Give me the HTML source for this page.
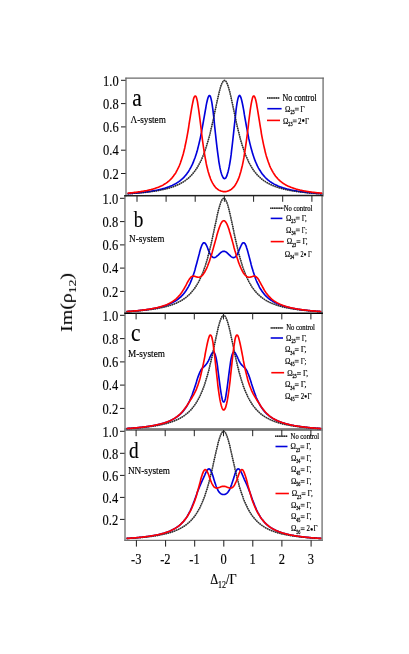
<!DOCTYPE html>
<html><head><meta charset="utf-8"><title>Figure</title>
<style>html,body{margin:0;padding:0;background:#fff}body{width:409px;height:654px;position:relative;overflow:hidden;font-family:"Liberation Serif",serif}</style>
</head><body>
<svg width="409" height="654" viewBox="0 0 409 654" style="position:absolute;left:0;top:0">
<rect width="409" height="654" fill="#fff"/>
<g font-family="Liberation Serif, serif" fill="#000" style="will-change:opacity;opacity:0.999">
<rect x="124.3" y="428.15" width="198.6" height="2.75" fill="#767676"/>
<g fill="none" stroke-linejoin="round">
<path d="M127.6 193.8 L128.1 193.8 L128.6 193.7 L129.1 193.7 L129.6 193.7 L130.0 193.6 L130.5 193.6 L131.0 193.6 L131.5 193.5 L132.0 193.5 L132.5 193.5 L133.0 193.4 L133.5 193.4 L134.0 193.4 L134.4 193.3 L134.9 193.3 L135.4 193.2 L135.9 193.2 L136.4 193.2 L136.9 193.1 L137.4 193.1 L137.9 193.1 L138.3 193.0 L138.8 193.0 L139.3 192.9 L139.8 192.9 L140.3 192.8 L140.8 192.8 L141.3 192.7 L141.8 192.7 L142.3 192.7 L142.7 192.6 L143.2 192.6 L143.7 192.5 L144.2 192.5 L144.7 192.4 L145.2 192.4 L145.7 192.3 L146.2 192.2 L146.7 192.2 L147.1 192.1 L147.6 192.1 L148.1 192.0 L148.6 192.0 L149.1 191.9 L149.6 191.8 L150.1 191.8 L150.6 191.7 L151.0 191.6 L151.5 191.6 L152.0 191.5 L152.5 191.4 L153.0 191.4 L153.5 191.3 L154.0 191.2 L154.5 191.2 L155.0 191.1 L155.4 191.0 L155.9 190.9 L156.4 190.8 L156.9 190.8 L157.4 190.7 L157.9 190.6 L158.4 190.5 L158.9 190.4 L159.4 190.3 L159.8 190.2 L160.3 190.1 L160.8 190.0 L161.3 189.9 L161.8 189.8 L162.3 189.7 L162.8 189.6 L163.3 189.5 L163.7 189.4 L164.2 189.3 L164.7 189.2 L165.2 189.1 L165.7 189.0 L166.2 188.8 L166.7 188.7 L167.2 188.6 L167.7 188.4 L168.1 188.3 L168.6 188.2 L169.1 188.0 L169.6 187.9 L170.1 187.7 L170.6 187.6 L171.1 187.4 L171.6 187.3 L172.1 187.1 L172.5 186.9 L173.0 186.8 L173.5 186.6 L174.0 186.4 L174.5 186.2 L175.0 186.0 L175.5 185.8 L176.0 185.6 L176.4 185.4 L176.9 185.2 L177.4 185.0 L177.9 184.8 L178.4 184.6 L178.9 184.3 L179.4 184.1 L179.9 183.8 L180.4 183.6 L180.8 183.3 L181.3 183.0 L181.8 182.8 L182.3 182.5 L182.8 182.2 L183.3 181.9 L183.8 181.6 L184.3 181.2 L184.8 180.9 L185.2 180.6 L185.7 180.2 L186.2 179.8 L186.7 179.5 L187.2 179.1 L187.7 178.7 L188.2 178.3 L188.7 177.9 L189.1 177.4 L189.6 177.0 L190.1 176.5 L190.6 176.0 L191.1 175.5 L191.6 175.0 L192.1 174.5 L192.6 173.9 L193.1 173.3 L193.5 172.7 L194.0 172.1 L194.5 171.5 L195.0 170.8 L195.5 170.1 L196.0 169.4 L196.5 168.7 L197.0 168.0 L197.5 167.2 L197.9 166.4 L198.4 165.5 L198.9 164.6 L199.4 163.7 L199.9 162.8 L200.4 161.8 L200.9 160.8 L201.4 159.8 L201.8 158.7 L202.3 157.6 L202.8 156.4 L203.3 155.2 L203.8 153.9 L204.3 152.6 L204.8 151.3 L205.3 149.9 L205.8 148.4 L206.2 146.9 L206.7 145.4 L207.2 143.8 L207.7 142.1 L208.2 140.4 L208.7 138.6 L209.2 136.8 L209.7 134.9 L210.2 133.0 L210.6 131.0 L211.1 129.0 L211.6 126.9 L212.1 124.7 L212.6 122.5 L213.1 120.3 L213.6 118.1 L214.1 115.8 L214.5 113.4 L215.0 111.1 L215.5 108.8 L216.0 106.5 L216.5 104.1 L217.0 101.8 L217.5 99.6 L218.0 97.4 L218.5 95.3 L218.9 93.2 L219.4 91.3 L219.9 89.4 L220.4 87.7 L220.9 86.1 L221.4 84.7 L221.9 83.5 L222.4 82.5 L222.9 81.7 L223.3 81.0 L223.8 80.6 L224.3 80.4 L224.8 80.4 L225.3 80.7 L225.8 81.2 L226.3 81.8 L226.8 82.7 L227.2 83.8 L227.7 85.1 L228.2 86.5 L228.7 88.1 L229.2 89.9 L229.7 91.7 L230.2 93.7 L230.7 95.8 L231.2 97.9 L231.6 100.1 L232.1 102.4 L232.6 104.7 L233.1 107.0 L233.6 109.4 L234.1 111.7 L234.6 114.0 L235.1 116.3 L235.6 118.6 L236.0 120.9 L236.5 123.1 L237.0 125.3 L237.5 127.4 L238.0 129.5 L238.5 131.5 L239.0 133.5 L239.5 135.4 L239.9 137.3 L240.4 139.1 L240.9 140.8 L241.4 142.5 L241.9 144.2 L242.4 145.8 L242.9 147.3 L243.4 148.8 L243.9 150.2 L244.3 151.6 L244.8 153.0 L245.3 154.2 L245.8 155.5 L246.3 156.7 L246.8 157.8 L247.3 159.0 L247.8 160.0 L248.3 161.1 L248.7 162.1 L249.2 163.0 L249.7 164.0 L250.2 164.9 L250.7 165.7 L251.2 166.6 L251.7 167.4 L252.2 168.1 L252.6 168.9 L253.1 169.6 L253.6 170.3 L254.1 171.0 L254.6 171.6 L255.1 172.3 L255.6 172.9 L256.1 173.5 L256.6 174.0 L257.0 174.6 L257.5 175.1 L258.0 175.6 L258.5 176.1 L259.0 176.6 L259.5 177.1 L260.0 177.5 L260.5 178.0 L261.0 178.4 L261.4 178.8 L261.9 179.2 L262.4 179.6 L262.9 179.9 L263.4 180.3 L263.9 180.7 L264.4 181.0 L264.9 181.3 L265.3 181.6 L265.8 182.0 L266.3 182.3 L266.8 182.5 L267.3 182.8 L267.8 183.1 L268.3 183.4 L268.8 183.6 L269.3 183.9 L269.7 184.1 L270.2 184.4 L270.7 184.6 L271.2 184.8 L271.7 185.1 L272.2 185.3 L272.7 185.5 L273.2 185.7 L273.7 185.9 L274.1 186.1 L274.6 186.3 L275.1 186.5 L275.6 186.6 L276.1 186.8 L276.6 187.0 L277.1 187.2 L277.6 187.3 L278.0 187.5 L278.5 187.6 L279.0 187.8 L279.5 187.9 L280.0 188.1 L280.5 188.2 L281.0 188.3 L281.5 188.5 L282.0 188.6 L282.4 188.7 L282.9 188.9 L283.4 189.0 L283.9 189.1 L284.4 189.2 L284.9 189.3 L285.4 189.4 L285.9 189.6 L286.4 189.7 L286.8 189.8 L287.3 189.9 L287.8 190.0 L288.3 190.1 L288.8 190.2 L289.3 190.3 L289.8 190.4 L290.3 190.4 L290.7 190.5 L291.2 190.6 L291.7 190.7 L292.2 190.8 L292.7 190.9 L293.2 190.9 L293.7 191.0 L294.2 191.1 L294.7 191.2 L295.1 191.3 L295.6 191.3 L296.1 191.4 L296.6 191.5 L297.1 191.5 L297.6 191.6 L298.1 191.7 L298.6 191.7 L299.1 191.8 L299.5 191.9 L300.0 191.9 L300.5 192.0 L301.0 192.0 L301.5 192.1 L302.0 192.2 L302.5 192.2 L303.0 192.3 L303.4 192.3 L303.9 192.4 L304.4 192.4 L304.9 192.5 L305.4 192.5 L305.9 192.6 L306.4 192.6 L306.9 192.7 L307.4 192.7 L307.8 192.8 L308.3 192.8 L308.8 192.8 L309.3 192.9 L309.8 192.9 L310.3 193.0 L310.8 193.0 L311.3 193.1 L311.8 193.1 L312.2 193.1 L312.7 193.2 L313.2 193.2 L313.7 193.3 L314.2 193.3 L314.7 193.3 L315.2 193.4 L315.7 193.4 L316.1 193.4 L316.6 193.5 L317.1 193.5 L317.6 193.5 L318.1 193.6 L318.6 193.6 L319.1 193.6 L319.6 193.7 L320.1 193.7 L320.5 193.7 L321.0 193.8 L321.5 193.8 L322.0 193.8 L322.5 193.8" stroke="#7c7c7c" stroke-width="1.3"/>
<path d="M127.6 193.6 L128.1 193.6 L128.6 193.6 L129.1 193.5 L129.6 193.5 L130.0 193.5 L130.5 193.4 L131.0 193.4 L131.5 193.4 L132.0 193.3 L132.5 193.3 L133.0 193.2 L133.5 193.2 L134.0 193.2 L134.4 193.1 L134.9 193.1 L135.4 193.0 L135.9 193.0 L136.4 193.0 L136.9 192.9 L137.4 192.9 L137.9 192.8 L138.3 192.8 L138.8 192.7 L139.3 192.7 L139.8 192.6 L140.3 192.6 L140.8 192.5 L141.3 192.5 L141.8 192.4 L142.3 192.4 L142.7 192.3 L143.2 192.3 L143.7 192.2 L144.2 192.2 L144.7 192.1 L145.2 192.0 L145.7 192.0 L146.2 191.9 L146.7 191.8 L147.1 191.8 L147.6 191.7 L148.1 191.6 L148.6 191.6 L149.1 191.5 L149.6 191.4 L150.1 191.4 L150.6 191.3 L151.0 191.2 L151.5 191.1 L152.0 191.1 L152.5 191.0 L153.0 190.9 L153.5 190.8 L154.0 190.7 L154.5 190.6 L155.0 190.5 L155.4 190.5 L155.9 190.4 L156.4 190.3 L156.9 190.2 L157.4 190.1 L157.9 190.0 L158.4 189.9 L158.9 189.7 L159.4 189.6 L159.8 189.5 L160.3 189.4 L160.8 189.3 L161.3 189.2 L161.8 189.0 L162.3 188.9 L162.8 188.8 L163.3 188.6 L163.7 188.5 L164.2 188.4 L164.7 188.2 L165.2 188.1 L165.7 187.9 L166.2 187.8 L166.7 187.6 L167.2 187.4 L167.7 187.3 L168.1 187.1 L168.6 186.9 L169.1 186.7 L169.6 186.5 L170.1 186.3 L170.6 186.1 L171.1 185.9 L171.6 185.7 L172.1 185.5 L172.5 185.3 L173.0 185.0 L173.5 184.8 L174.0 184.5 L174.5 184.3 L175.0 184.0 L175.5 183.8 L176.0 183.5 L176.4 183.2 L176.9 182.9 L177.4 182.6 L177.9 182.3 L178.4 181.9 L178.9 181.6 L179.4 181.2 L179.9 180.9 L180.4 180.5 L180.8 180.1 L181.3 179.7 L181.8 179.2 L182.3 178.8 L182.8 178.3 L183.3 177.9 L183.8 177.4 L184.3 176.9 L184.8 176.3 L185.2 175.8 L185.7 175.2 L186.2 174.6 L186.7 174.0 L187.2 173.3 L187.7 172.6 L188.2 171.9 L188.7 171.2 L189.1 170.4 L189.6 169.6 L190.1 168.7 L190.6 167.8 L191.1 166.9 L191.6 165.9 L192.1 164.9 L192.6 163.8 L193.1 162.7 L193.5 161.6 L194.0 160.3 L194.5 159.0 L195.0 157.7 L195.5 156.3 L196.0 154.8 L196.5 153.2 L197.0 151.6 L197.5 149.8 L197.9 148.0 L198.4 146.1 L198.9 144.1 L199.4 142.0 L199.9 139.9 L200.4 137.6 L200.9 135.2 L201.4 132.7 L201.8 130.2 L202.3 127.5 L202.8 124.8 L203.3 122.0 L203.8 119.2 L204.3 116.4 L204.8 113.5 L205.3 110.7 L205.8 108.0 L206.2 105.3 L206.7 102.9 L207.2 100.7 L207.7 98.8 L208.2 97.3 L208.7 96.2 L209.2 95.5 L209.7 95.5 L210.2 96.0 L210.6 97.1 L211.1 98.9 L211.6 101.2 L212.1 104.2 L212.6 107.6 L213.1 111.4 L213.6 115.6 L214.1 120.1 L214.5 124.7 L215.0 129.4 L215.5 134.0 L216.0 138.6 L216.5 143.1 L217.0 147.3 L217.5 151.4 L218.0 155.1 L218.5 158.6 L218.9 161.8 L219.4 164.7 L219.9 167.4 L220.4 169.7 L220.9 171.7 L221.4 173.5 L221.9 175.0 L222.4 176.2 L222.9 177.2 L223.3 177.9 L223.8 178.4 L224.3 178.6 L224.8 178.6 L225.3 178.3 L225.8 177.8 L226.3 177.0 L226.8 175.9 L227.2 174.6 L227.7 173.1 L228.2 171.2 L228.7 169.1 L229.2 166.7 L229.7 164.0 L230.2 161.0 L230.7 157.8 L231.2 154.2 L231.6 150.4 L232.1 146.3 L232.6 142.0 L233.1 137.5 L233.6 132.9 L234.1 128.2 L234.6 123.5 L235.1 118.9 L235.6 114.5 L236.0 110.4 L236.5 106.7 L237.0 103.4 L237.5 100.6 L238.0 98.4 L238.5 96.8 L239.0 95.8 L239.5 95.4 L239.9 95.6 L240.4 96.4 L240.9 97.6 L241.4 99.2 L241.9 101.2 L242.4 103.5 L242.9 106.0 L243.4 108.6 L243.9 111.4 L244.3 114.2 L244.8 117.1 L245.3 119.9 L245.8 122.7 L246.3 125.5 L246.8 128.2 L247.3 130.8 L247.8 133.4 L248.3 135.8 L248.7 138.2 L249.2 140.4 L249.7 142.6 L250.2 144.6 L250.7 146.6 L251.2 148.5 L251.7 150.3 L252.2 152.0 L252.6 153.6 L253.1 155.1 L253.6 156.6 L254.1 158.0 L254.6 159.4 L255.1 160.6 L255.6 161.9 L256.1 163.0 L256.6 164.1 L257.0 165.2 L257.5 166.2 L258.0 167.1 L258.5 168.1 L259.0 168.9 L259.5 169.8 L260.0 170.6 L260.5 171.3 L261.0 172.1 L261.4 172.8 L261.9 173.5 L262.4 174.1 L262.9 174.7 L263.4 175.3 L263.9 175.9 L264.4 176.5 L264.9 177.0 L265.3 177.5 L265.8 178.0 L266.3 178.5 L266.8 178.9 L267.3 179.3 L267.8 179.8 L268.3 180.2 L268.8 180.6 L269.3 180.9 L269.7 181.3 L270.2 181.7 L270.7 182.0 L271.2 182.3 L271.7 182.7 L272.2 183.0 L272.7 183.3 L273.2 183.5 L273.7 183.8 L274.1 184.1 L274.6 184.4 L275.1 184.6 L275.6 184.9 L276.1 185.1 L276.6 185.3 L277.1 185.6 L277.6 185.8 L278.0 186.0 L278.5 186.2 L279.0 186.4 L279.5 186.6 L280.0 186.8 L280.5 187.0 L281.0 187.1 L281.5 187.3 L282.0 187.5 L282.4 187.6 L282.9 187.8 L283.4 188.0 L283.9 188.1 L284.4 188.3 L284.9 188.4 L285.4 188.5 L285.9 188.7 L286.4 188.8 L286.8 188.9 L287.3 189.1 L287.8 189.2 L288.3 189.3 L288.8 189.4 L289.3 189.5 L289.8 189.7 L290.3 189.8 L290.7 189.9 L291.2 190.0 L291.7 190.1 L292.2 190.2 L292.7 190.3 L293.2 190.4 L293.7 190.5 L294.2 190.6 L294.7 190.7 L295.1 190.7 L295.6 190.8 L296.1 190.9 L296.6 191.0 L297.1 191.1 L297.6 191.2 L298.1 191.2 L298.6 191.3 L299.1 191.4 L299.5 191.5 L300.0 191.5 L300.5 191.6 L301.0 191.7 L301.5 191.7 L302.0 191.8 L302.5 191.9 L303.0 191.9 L303.4 192.0 L303.9 192.0 L304.4 192.1 L304.9 192.2 L305.4 192.2 L305.9 192.3 L306.4 192.3 L306.9 192.4 L307.4 192.4 L307.8 192.5 L308.3 192.5 L308.8 192.6 L309.3 192.6 L309.8 192.7 L310.3 192.7 L310.8 192.8 L311.3 192.8 L311.8 192.9 L312.2 192.9 L312.7 193.0 L313.2 193.0 L313.7 193.1 L314.2 193.1 L314.7 193.1 L315.2 193.2 L315.7 193.2 L316.1 193.3 L316.6 193.3 L317.1 193.3 L317.6 193.4 L318.1 193.4 L318.6 193.4 L319.1 193.5 L319.6 193.5 L320.1 193.5 L320.5 193.6 L321.0 193.6 L321.5 193.6 L322.0 193.7 L322.5 193.7" stroke="#0000dc" stroke-width="1.65"/>
<path d="M127.6 193.8 L128.1 193.8 L128.6 193.7 L129.1 193.7 L129.6 193.7 L130.0 193.6 L130.5 193.6 L131.0 193.6 L131.5 193.5 L132.0 193.5 L132.5 193.5 L133.0 193.4 L133.5 193.4 L134.0 193.4 L134.4 193.3 L134.9 193.3 L135.4 193.2 L135.9 193.2 L136.4 193.2 L136.9 193.1 L137.4 193.1 L137.9 193.1 L138.3 193.0 L138.8 193.0 L139.3 192.9 L139.8 192.9 L140.3 192.8 L140.8 192.8 L141.3 192.7 L141.8 192.7 L142.3 192.7 L142.7 192.6 L143.2 192.6 L143.7 192.5 L144.2 192.5 L144.7 192.4 L145.2 192.4 L145.7 192.3 L146.2 192.2 L146.7 192.2 L147.1 192.1 L147.6 192.1 L148.1 192.0 L148.6 192.0 L149.1 191.9 L149.6 191.8 L150.1 191.8 L150.6 191.7 L151.0 191.6 L151.5 191.6 L152.0 191.5 L152.5 191.4 L153.0 191.4 L153.5 191.3 L154.0 191.2 L154.5 191.2 L155.0 191.1 L155.4 191.0 L155.9 190.9 L156.4 190.8 L156.9 190.8 L157.4 190.7 L157.9 190.6 L158.4 190.5 L158.9 190.4 L159.4 190.3 L159.8 190.2 L160.3 190.1 L160.8 190.0 L161.3 189.9 L161.8 189.8 L162.3 189.7 L162.8 189.6 L163.3 189.5 L163.7 189.4 L164.2 189.3 L164.7 189.2 L165.2 189.1 L165.7 189.0 L166.2 188.8 L166.7 188.7 L167.2 188.6 L167.7 188.4 L168.1 188.3 L168.6 188.2 L169.1 188.0 L169.6 187.9 L170.1 187.7 L170.6 187.6 L171.1 187.4 L171.6 187.3 L172.1 187.1 L172.5 186.9 L173.0 186.8 L173.5 186.6 L174.0 186.4 L174.5 186.2 L175.0 186.0 L175.5 185.8 L176.0 185.6 L176.4 185.4 L176.9 185.2 L177.4 185.0 L177.9 184.8 L178.4 184.6 L178.9 184.3 L179.4 184.1 L179.9 183.8 L180.4 183.6 L180.8 183.3 L181.3 183.0 L181.8 182.8 L182.3 182.5 L182.8 182.2 L183.3 181.9 L183.8 181.6 L184.3 181.2 L184.8 180.9 L185.2 180.6 L185.7 180.2 L186.2 179.8 L186.7 179.5 L187.2 179.1 L187.7 178.7 L188.2 178.3 L188.7 177.9 L189.1 177.4 L189.6 177.0 L190.1 176.5 L190.6 176.0 L191.1 175.5 L191.6 175.0 L192.1 174.5 L192.6 173.9 L193.1 173.3 L193.5 172.7 L194.0 172.1 L194.5 171.5 L195.0 170.8 L195.5 170.1 L196.0 169.4 L196.5 168.7 L197.0 168.0 L197.5 167.2 L197.9 166.4 L198.4 165.5 L198.9 164.6 L199.4 163.7 L199.9 162.8 L200.4 161.8 L200.9 160.8 L201.4 159.8 L201.8 158.7 L202.3 157.6 L202.8 156.4 L203.3 155.2 L203.8 153.9 L204.3 152.6 L204.8 151.3 L205.3 149.9 L205.8 148.4 L206.2 146.9 L206.7 145.4 L207.2 143.8 L207.7 142.1 L208.2 140.4 L208.7 138.6 L209.2 136.8 L209.7 134.9 L210.2 133.0 L210.6 131.0 L211.1 129.0 L211.6 126.9 L212.1 124.7 L212.6 122.5 L213.1 120.3 L213.6 118.1 L214.1 115.8 L214.5 113.4 L215.0 111.1 L215.5 108.8 L216.0 106.5 L216.5 104.1 L217.0 101.8 L217.5 99.6 L218.0 97.4 L218.5 95.3 L218.9 93.2 L219.4 91.3 L219.9 89.4 L220.4 87.7 L220.9 86.1 L221.4 84.7 L221.9 83.5 L222.4 82.5 L222.9 81.7 L223.3 81.0 L223.8 80.6 L224.3 80.4 L224.8 80.4 L225.3 80.7 L225.8 81.2 L226.3 81.8 L226.8 82.7 L227.2 83.8 L227.7 85.1 L228.2 86.5 L228.7 88.1 L229.2 89.9 L229.7 91.7 L230.2 93.7 L230.7 95.8 L231.2 97.9 L231.6 100.1 L232.1 102.4 L232.6 104.7 L233.1 107.0 L233.6 109.4 L234.1 111.7 L234.6 114.0 L235.1 116.3 L235.6 118.6 L236.0 120.9 L236.5 123.1 L237.0 125.3 L237.5 127.4 L238.0 129.5 L238.5 131.5 L239.0 133.5 L239.5 135.4 L239.9 137.3 L240.4 139.1 L240.9 140.8 L241.4 142.5 L241.9 144.2 L242.4 145.8 L242.9 147.3 L243.4 148.8 L243.9 150.2 L244.3 151.6 L244.8 153.0 L245.3 154.2 L245.8 155.5 L246.3 156.7 L246.8 157.8 L247.3 159.0 L247.8 160.0 L248.3 161.1 L248.7 162.1 L249.2 163.0 L249.7 164.0 L250.2 164.9 L250.7 165.7 L251.2 166.6 L251.7 167.4 L252.2 168.1 L252.6 168.9 L253.1 169.6 L253.6 170.3 L254.1 171.0 L254.6 171.6 L255.1 172.3 L255.6 172.9 L256.1 173.5 L256.6 174.0 L257.0 174.6 L257.5 175.1 L258.0 175.6 L258.5 176.1 L259.0 176.6 L259.5 177.1 L260.0 177.5 L260.5 178.0 L261.0 178.4 L261.4 178.8 L261.9 179.2 L262.4 179.6 L262.9 179.9 L263.4 180.3 L263.9 180.7 L264.4 181.0 L264.9 181.3 L265.3 181.6 L265.8 182.0 L266.3 182.3 L266.8 182.5 L267.3 182.8 L267.8 183.1 L268.3 183.4 L268.8 183.6 L269.3 183.9 L269.7 184.1 L270.2 184.4 L270.7 184.6 L271.2 184.8 L271.7 185.1 L272.2 185.3 L272.7 185.5 L273.2 185.7 L273.7 185.9 L274.1 186.1 L274.6 186.3 L275.1 186.5 L275.6 186.6 L276.1 186.8 L276.6 187.0 L277.1 187.2 L277.6 187.3 L278.0 187.5 L278.5 187.6 L279.0 187.8 L279.5 187.9 L280.0 188.1 L280.5 188.2 L281.0 188.3 L281.5 188.5 L282.0 188.6 L282.4 188.7 L282.9 188.9 L283.4 189.0 L283.9 189.1 L284.4 189.2 L284.9 189.3 L285.4 189.4 L285.9 189.6 L286.4 189.7 L286.8 189.8 L287.3 189.9 L287.8 190.0 L288.3 190.1 L288.8 190.2 L289.3 190.3 L289.8 190.4 L290.3 190.4 L290.7 190.5 L291.2 190.6 L291.7 190.7 L292.2 190.8 L292.7 190.9 L293.2 190.9 L293.7 191.0 L294.2 191.1 L294.7 191.2 L295.1 191.3 L295.6 191.3 L296.1 191.4 L296.6 191.5 L297.1 191.5 L297.6 191.6 L298.1 191.7 L298.6 191.7 L299.1 191.8 L299.5 191.9 L300.0 191.9 L300.5 192.0 L301.0 192.0 L301.5 192.1 L302.0 192.2 L302.5 192.2 L303.0 192.3 L303.4 192.3 L303.9 192.4 L304.4 192.4 L304.9 192.5 L305.4 192.5 L305.9 192.6 L306.4 192.6 L306.9 192.7 L307.4 192.7 L307.8 192.8 L308.3 192.8 L308.8 192.8 L309.3 192.9 L309.8 192.9 L310.3 193.0 L310.8 193.0 L311.3 193.1 L311.8 193.1 L312.2 193.1 L312.7 193.2 L313.2 193.2 L313.7 193.3 L314.2 193.3 L314.7 193.3 L315.2 193.4 L315.7 193.4 L316.1 193.4 L316.6 193.5 L317.1 193.5 L317.6 193.5 L318.1 193.6 L318.6 193.6 L319.1 193.6 L319.6 193.7 L320.1 193.7 L320.5 193.7 L321.0 193.8 L321.5 193.8 L322.0 193.8 L322.5 193.8" stroke="#262626" stroke-width="1.5" stroke-dasharray="1.05 1.15"/>
<path d="M127.6 193.1 L128.1 193.1 L128.6 193.0 L129.1 193.0 L129.6 193.0 L130.0 192.9 L130.5 192.9 L131.0 192.8 L131.5 192.8 L132.0 192.7 L132.5 192.7 L133.0 192.6 L133.5 192.6 L134.0 192.5 L134.4 192.4 L134.9 192.4 L135.4 192.3 L135.9 192.3 L136.4 192.2 L136.9 192.1 L137.4 192.1 L137.9 192.0 L138.3 191.9 L138.8 191.9 L139.3 191.8 L139.8 191.7 L140.3 191.7 L140.8 191.6 L141.3 191.5 L141.8 191.4 L142.3 191.4 L142.7 191.3 L143.2 191.2 L143.7 191.1 L144.2 191.0 L144.7 190.9 L145.2 190.8 L145.7 190.7 L146.2 190.7 L146.7 190.6 L147.1 190.5 L147.6 190.4 L148.1 190.2 L148.6 190.1 L149.1 190.0 L149.6 189.9 L150.1 189.8 L150.6 189.7 L151.0 189.6 L151.5 189.4 L152.0 189.3 L152.5 189.2 L153.0 189.0 L153.5 188.9 L154.0 188.7 L154.5 188.6 L155.0 188.4 L155.4 188.3 L155.9 188.1 L156.4 187.9 L156.9 187.8 L157.4 187.6 L157.9 187.4 L158.4 187.2 L158.9 187.0 L159.4 186.8 L159.8 186.6 L160.3 186.4 L160.8 186.1 L161.3 185.9 L161.8 185.7 L162.3 185.4 L162.8 185.2 L163.3 184.9 L163.7 184.6 L164.2 184.3 L164.7 184.0 L165.2 183.7 L165.7 183.4 L166.2 183.1 L166.7 182.7 L167.2 182.4 L167.7 182.0 L168.1 181.6 L168.6 181.2 L169.1 180.8 L169.6 180.3 L170.1 179.9 L170.6 179.4 L171.1 178.9 L171.6 178.3 L172.1 177.8 L172.5 177.2 L173.0 176.6 L173.5 176.0 L174.0 175.3 L174.5 174.6 L175.0 173.9 L175.5 173.2 L176.0 172.4 L176.4 171.5 L176.9 170.6 L177.4 169.7 L177.9 168.7 L178.4 167.7 L178.9 166.6 L179.4 165.5 L179.9 164.2 L180.4 163.0 L180.8 161.6 L181.3 160.2 L181.8 158.7 L182.3 157.1 L182.8 155.4 L183.3 153.7 L183.8 151.8 L184.3 149.8 L184.8 147.7 L185.2 145.5 L185.7 143.2 L186.2 140.8 L186.7 138.3 L187.2 135.6 L187.7 132.8 L188.2 130.0 L188.7 127.0 L189.1 124.0 L189.6 120.9 L190.1 117.8 L190.6 114.7 L191.1 111.7 L191.6 108.7 L192.1 105.9 L192.6 103.3 L193.1 101.0 L193.5 99.1 L194.0 97.6 L194.5 96.5 L195.0 96.0 L195.5 96.0 L196.0 96.6 L196.5 97.8 L197.0 99.6 L197.5 101.9 L197.9 104.7 L198.4 107.8 L198.9 111.3 L199.4 115.1 L199.9 119.0 L200.4 123.0 L200.9 127.0 L201.4 131.0 L201.8 135.0 L202.3 138.8 L202.8 142.5 L203.3 146.0 L203.8 149.4 L204.3 152.6 L204.8 155.6 L205.3 158.4 L205.8 161.0 L206.2 163.4 L206.7 165.7 L207.2 167.8 L207.7 169.8 L208.2 171.7 L208.7 173.3 L209.2 174.9 L209.7 176.4 L210.2 177.7 L210.6 179.0 L211.1 180.1 L211.6 181.2 L212.1 182.2 L212.6 183.1 L213.1 183.9 L213.6 184.7 L214.1 185.4 L214.5 186.1 L215.0 186.7 L215.5 187.3 L216.0 187.8 L216.5 188.3 L217.0 188.7 L217.5 189.1 L218.0 189.5 L218.5 189.8 L218.9 190.1 L219.4 190.4 L219.9 190.6 L220.4 190.8 L220.9 191.0 L221.4 191.2 L221.9 191.3 L222.4 191.4 L222.9 191.5 L223.3 191.6 L223.8 191.6 L224.3 191.6 L224.8 191.6 L225.3 191.6 L225.8 191.6 L226.3 191.5 L226.8 191.4 L227.2 191.3 L227.7 191.1 L228.2 191.0 L228.7 190.8 L229.2 190.6 L229.7 190.3 L230.2 190.0 L230.7 189.7 L231.2 189.4 L231.6 189.0 L232.1 188.6 L232.6 188.2 L233.1 187.7 L233.6 187.2 L234.1 186.6 L234.6 186.0 L235.1 185.3 L235.6 184.5 L236.0 183.7 L236.5 182.9 L237.0 181.9 L237.5 180.9 L238.0 179.8 L238.5 178.7 L239.0 177.4 L239.5 176.0 L239.9 174.5 L240.4 172.9 L240.9 171.2 L241.4 169.3 L241.9 167.3 L242.4 165.2 L242.9 162.8 L243.4 160.3 L243.9 157.7 L244.3 154.8 L244.8 151.8 L245.3 148.6 L245.8 145.2 L246.3 141.6 L246.8 137.8 L247.3 134.0 L247.8 130.0 L248.3 126.0 L248.7 122.0 L249.2 118.0 L249.7 114.1 L250.2 110.4 L250.7 107.0 L251.2 103.9 L251.7 101.3 L252.2 99.1 L252.6 97.5 L253.1 96.4 L253.6 96.0 L254.1 96.1 L254.6 96.7 L255.1 97.9 L255.6 99.5 L256.1 101.6 L256.6 104.0 L257.0 106.6 L257.5 109.4 L258.0 112.4 L258.5 115.5 L259.0 118.6 L259.5 121.7 L260.0 124.8 L260.5 127.8 L261.0 130.7 L261.4 133.6 L261.9 136.3 L262.4 138.9 L262.9 141.4 L263.4 143.8 L263.9 146.1 L264.4 148.3 L264.9 150.3 L265.3 152.3 L265.8 154.1 L266.3 155.9 L266.8 157.5 L267.3 159.1 L267.8 160.6 L268.3 162.0 L268.8 163.3 L269.3 164.6 L269.7 165.8 L270.2 166.9 L270.7 168.0 L271.2 169.0 L271.7 169.9 L272.2 170.9 L272.7 171.7 L273.2 172.6 L273.7 173.4 L274.1 174.1 L274.6 174.8 L275.1 175.5 L275.6 176.2 L276.1 176.8 L276.6 177.4 L277.1 177.9 L277.6 178.5 L278.0 179.0 L278.5 179.5 L279.0 180.0 L279.5 180.4 L280.0 180.9 L280.5 181.3 L281.0 181.7 L281.5 182.1 L282.0 182.4 L282.4 182.8 L282.9 183.1 L283.4 183.5 L283.9 183.8 L284.4 184.1 L284.9 184.4 L285.4 184.7 L285.9 185.0 L286.4 185.2 L286.8 185.5 L287.3 185.7 L287.8 186.0 L288.3 186.2 L288.8 186.4 L289.3 186.6 L289.8 186.8 L290.3 187.1 L290.7 187.2 L291.2 187.4 L291.7 187.6 L292.2 187.8 L292.7 188.0 L293.2 188.1 L293.7 188.3 L294.2 188.5 L294.7 188.6 L295.1 188.8 L295.6 188.9 L296.1 189.1 L296.6 189.2 L297.1 189.3 L297.6 189.5 L298.1 189.6 L298.6 189.7 L299.1 189.8 L299.5 189.9 L300.0 190.1 L300.5 190.2 L301.0 190.3 L301.5 190.4 L302.0 190.5 L302.5 190.6 L303.0 190.7 L303.4 190.8 L303.9 190.9 L304.4 191.0 L304.9 191.0 L305.4 191.1 L305.9 191.2 L306.4 191.3 L306.9 191.4 L307.4 191.5 L307.8 191.5 L308.3 191.6 L308.8 191.7 L309.3 191.8 L309.8 191.8 L310.3 191.9 L310.8 192.0 L311.3 192.0 L311.8 192.1 L312.2 192.2 L312.7 192.2 L313.2 192.3 L313.7 192.3 L314.2 192.4 L314.7 192.5 L315.2 192.5 L315.7 192.6 L316.1 192.6 L316.6 192.7 L317.1 192.7 L317.6 192.8 L318.1 192.8 L318.6 192.9 L319.1 192.9 L319.6 193.0 L320.1 193.0 L320.5 193.1 L321.0 193.1 L321.5 193.1 L322.0 193.2 L322.5 193.2" stroke="#ff0000" stroke-width="1.65"/>
</g>
<g fill="none" stroke-linejoin="round">
<path d="M126.5 311.7 L127.0 311.7 L127.5 311.6 L128.0 311.6 L128.5 311.6 L129.0 311.6 L129.5 311.5 L130.0 311.5 L130.5 311.5 L130.9 311.4 L131.4 311.4 L131.9 311.4 L132.4 311.3 L132.9 311.3 L133.4 311.2 L133.9 311.2 L134.4 311.2 L134.9 311.1 L135.3 311.1 L135.8 311.1 L136.3 311.0 L136.8 311.0 L137.3 310.9 L137.8 310.9 L138.3 310.9 L138.8 310.8 L139.3 310.8 L139.7 310.7 L140.2 310.7 L140.7 310.6 L141.2 310.6 L141.7 310.5 L142.2 310.5 L142.7 310.4 L143.2 310.4 L143.7 310.3 L144.1 310.3 L144.6 310.2 L145.1 310.2 L145.6 310.1 L146.1 310.1 L146.6 310.0 L147.1 310.0 L147.6 309.9 L148.0 309.8 L148.5 309.8 L149.0 309.7 L149.5 309.7 L150.0 309.6 L150.5 309.5 L151.0 309.5 L151.5 309.4 L152.0 309.3 L152.4 309.3 L152.9 309.2 L153.4 309.1 L153.9 309.0 L154.4 309.0 L154.9 308.9 L155.4 308.8 L155.9 308.7 L156.4 308.6 L156.8 308.6 L157.3 308.5 L157.8 308.4 L158.3 308.3 L158.8 308.2 L159.3 308.1 L159.8 308.0 L160.3 307.9 L160.8 307.8 L161.2 307.7 L161.7 307.6 L162.2 307.5 L162.7 307.4 L163.2 307.3 L163.7 307.2 L164.2 307.1 L164.7 306.9 L165.1 306.8 L165.6 306.7 L166.1 306.6 L166.6 306.4 L167.1 306.3 L167.6 306.2 L168.1 306.0 L168.6 305.9 L169.1 305.7 L169.5 305.6 L170.0 305.4 L170.5 305.3 L171.0 305.1 L171.5 305.0 L172.0 304.8 L172.5 304.6 L173.0 304.4 L173.5 304.3 L173.9 304.1 L174.4 303.9 L174.9 303.7 L175.4 303.5 L175.9 303.3 L176.4 303.1 L176.9 302.8 L177.4 302.6 L177.9 302.4 L178.3 302.1 L178.8 301.9 L179.3 301.7 L179.8 301.4 L180.3 301.1 L180.8 300.9 L181.3 300.6 L181.8 300.3 L182.2 300.0 L182.7 299.7 L183.2 299.4 L183.7 299.0 L184.2 298.7 L184.7 298.4 L185.2 298.0 L185.7 297.6 L186.2 297.3 L186.6 296.9 L187.1 296.5 L187.6 296.0 L188.1 295.6 L188.6 295.2 L189.1 294.7 L189.6 294.2 L190.1 293.7 L190.6 293.2 L191.0 292.7 L191.5 292.2 L192.0 291.6 L192.5 291.0 L193.0 290.4 L193.5 289.8 L194.0 289.2 L194.5 288.5 L195.0 287.8 L195.4 287.1 L195.9 286.4 L196.4 285.6 L196.9 284.8 L197.4 284.0 L197.9 283.1 L198.4 282.3 L198.9 281.3 L199.4 280.4 L199.8 279.4 L200.3 278.4 L200.8 277.3 L201.3 276.2 L201.8 275.1 L202.3 273.9 L202.8 272.7 L203.3 271.4 L203.7 270.1 L204.2 268.7 L204.7 267.3 L205.2 265.9 L205.7 264.3 L206.2 262.8 L206.7 261.1 L207.2 259.5 L207.7 257.7 L208.1 255.9 L208.6 254.1 L209.1 252.2 L209.6 250.2 L210.1 248.2 L210.6 246.2 L211.1 244.1 L211.6 241.9 L212.1 239.7 L212.5 237.5 L213.0 235.2 L213.5 232.9 L214.0 230.6 L214.5 228.2 L215.0 225.9 L215.5 223.6 L216.0 221.3 L216.5 219.0 L216.9 216.8 L217.4 214.6 L217.9 212.5 L218.4 210.4 L218.9 208.5 L219.4 206.7 L219.9 205.1 L220.4 203.6 L220.8 202.2 L221.3 201.1 L221.8 200.1 L222.3 199.3 L222.8 198.8 L223.3 198.4 L223.8 198.3 L224.3 198.4 L224.8 198.7 L225.2 199.3 L225.7 200.0 L226.2 201.0 L226.7 202.1 L227.2 203.5 L227.7 204.9 L228.2 206.6 L228.7 208.4 L229.2 210.3 L229.6 212.3 L230.1 214.4 L230.6 216.6 L231.1 218.8 L231.6 221.1 L232.1 223.4 L232.6 225.7 L233.1 228.1 L233.6 230.4 L234.0 232.7 L234.5 235.0 L235.0 237.3 L235.5 239.5 L236.0 241.7 L236.5 243.9 L237.0 246.0 L237.5 248.1 L238.0 250.1 L238.4 252.0 L238.9 254.0 L239.4 255.8 L239.9 257.6 L240.4 259.3 L240.9 261.0 L241.4 262.6 L241.9 264.2 L242.3 265.7 L242.8 267.2 L243.3 268.6 L243.8 270.0 L244.3 271.3 L244.8 272.6 L245.3 273.8 L245.8 275.0 L246.3 276.1 L246.7 277.2 L247.2 278.3 L247.7 279.3 L248.2 280.3 L248.7 281.3 L249.2 282.2 L249.7 283.1 L250.2 283.9 L250.7 284.8 L251.1 285.5 L251.6 286.3 L252.1 287.1 L252.6 287.8 L253.1 288.5 L253.6 289.1 L254.1 289.8 L254.6 290.4 L255.1 291.0 L255.5 291.6 L256.0 292.1 L256.5 292.7 L257.0 293.2 L257.5 293.7 L258.0 294.2 L258.5 294.7 L259.0 295.1 L259.4 295.6 L259.9 296.0 L260.4 296.4 L260.9 296.8 L261.4 297.2 L261.9 297.6 L262.4 298.0 L262.9 298.3 L263.4 298.7 L263.8 299.0 L264.3 299.3 L264.8 299.7 L265.3 300.0 L265.8 300.3 L266.3 300.6 L266.8 300.8 L267.3 301.1 L267.8 301.4 L268.2 301.6 L268.7 301.9 L269.2 302.1 L269.7 302.4 L270.2 302.6 L270.7 302.8 L271.2 303.0 L271.7 303.3 L272.2 303.5 L272.6 303.7 L273.1 303.9 L273.6 304.1 L274.1 304.2 L274.6 304.4 L275.1 304.6 L275.6 304.8 L276.1 304.9 L276.5 305.1 L277.0 305.3 L277.5 305.4 L278.0 305.6 L278.5 305.7 L279.0 305.9 L279.5 306.0 L280.0 306.2 L280.5 306.3 L280.9 306.4 L281.4 306.6 L281.9 306.7 L282.4 306.8 L282.9 306.9 L283.4 307.0 L283.9 307.2 L284.4 307.3 L284.9 307.4 L285.3 307.5 L285.8 307.6 L286.3 307.7 L286.8 307.8 L287.3 307.9 L287.8 308.0 L288.3 308.1 L288.8 308.2 L289.3 308.3 L289.7 308.4 L290.2 308.5 L290.7 308.5 L291.2 308.6 L291.7 308.7 L292.2 308.8 L292.7 308.9 L293.2 309.0 L293.6 309.0 L294.1 309.1 L294.6 309.2 L295.1 309.3 L295.6 309.3 L296.1 309.4 L296.6 309.5 L297.1 309.5 L297.6 309.6 L298.0 309.7 L298.5 309.7 L299.0 309.8 L299.5 309.8 L300.0 309.9 L300.5 310.0 L301.0 310.0 L301.5 310.1 L302.0 310.1 L302.4 310.2 L302.9 310.2 L303.4 310.3 L303.9 310.3 L304.4 310.4 L304.9 310.4 L305.4 310.5 L305.9 310.5 L306.4 310.6 L306.8 310.6 L307.3 310.7 L307.8 310.7 L308.3 310.8 L308.8 310.8 L309.3 310.9 L309.8 310.9 L310.3 310.9 L310.8 311.0 L311.2 311.0 L311.7 311.1 L312.2 311.1 L312.7 311.1 L313.2 311.2 L313.7 311.2 L314.2 311.2 L314.7 311.3 L315.1 311.3 L315.6 311.4 L316.1 311.4 L316.6 311.4 L317.1 311.5 L317.6 311.5 L318.1 311.5 L318.6 311.6 L319.1 311.6 L319.5 311.6 L320.0 311.6 L320.5 311.7 L321.0 311.7 L321.5 311.7" stroke="#7c7c7c" stroke-width="1.3"/>
<path d="M126.5 311.6 L127.0 311.5 L127.5 311.5 L128.0 311.5 L128.5 311.4 L129.0 311.4 L129.5 311.4 L130.0 311.3 L130.5 311.3 L130.9 311.2 L131.4 311.2 L131.9 311.2 L132.4 311.1 L132.9 311.1 L133.4 311.0 L133.9 311.0 L134.4 311.0 L134.9 310.9 L135.3 310.9 L135.8 310.8 L136.3 310.8 L136.8 310.7 L137.3 310.7 L137.8 310.7 L138.3 310.6 L138.8 310.6 L139.3 310.5 L139.7 310.5 L140.2 310.4 L140.7 310.4 L141.2 310.3 L141.7 310.2 L142.2 310.2 L142.7 310.1 L143.2 310.1 L143.7 310.0 L144.1 310.0 L144.6 309.9 L145.1 309.8 L145.6 309.8 L146.1 309.7 L146.6 309.6 L147.1 309.6 L147.6 309.5 L148.0 309.4 L148.5 309.4 L149.0 309.3 L149.5 309.2 L150.0 309.1 L150.5 309.1 L151.0 309.0 L151.5 308.9 L152.0 308.8 L152.4 308.7 L152.9 308.6 L153.4 308.6 L153.9 308.5 L154.4 308.4 L154.9 308.3 L155.4 308.2 L155.9 308.1 L156.4 308.0 L156.8 307.9 L157.3 307.8 L157.8 307.7 L158.3 307.6 L158.8 307.4 L159.3 307.3 L159.8 307.2 L160.3 307.1 L160.8 307.0 L161.2 306.8 L161.7 306.7 L162.2 306.6 L162.7 306.4 L163.2 306.3 L163.7 306.1 L164.2 306.0 L164.7 305.8 L165.1 305.7 L165.6 305.5 L166.1 305.3 L166.6 305.2 L167.1 305.0 L167.6 304.8 L168.1 304.6 L168.6 304.4 L169.1 304.2 L169.5 304.0 L170.0 303.8 L170.5 303.6 L171.0 303.4 L171.5 303.1 L172.0 302.9 L172.5 302.6 L173.0 302.4 L173.5 302.1 L173.9 301.8 L174.4 301.6 L174.9 301.3 L175.4 301.0 L175.9 300.7 L176.4 300.3 L176.9 300.0 L177.4 299.6 L177.9 299.3 L178.3 298.9 L178.8 298.5 L179.3 298.1 L179.8 297.7 L180.3 297.3 L180.8 296.8 L181.3 296.3 L181.8 295.9 L182.2 295.3 L182.7 294.8 L183.2 294.3 L183.7 293.7 L184.2 293.1 L184.7 292.5 L185.2 291.8 L185.7 291.1 L186.2 290.4 L186.6 289.6 L187.1 288.9 L187.6 288.0 L188.1 287.2 L188.6 286.3 L189.1 285.3 L189.6 284.3 L190.1 283.3 L190.6 282.2 L191.0 281.1 L191.5 279.9 L192.0 278.6 L192.5 277.3 L193.0 275.9 L193.5 274.5 L194.0 273.0 L194.5 271.4 L195.0 269.8 L195.4 268.1 L195.9 266.3 L196.4 264.5 L196.9 262.7 L197.4 260.8 L197.9 258.9 L198.4 257.0 L198.9 255.1 L199.4 253.2 L199.8 251.4 L200.3 249.7 L200.8 248.1 L201.3 246.7 L201.8 245.4 L202.3 244.4 L202.8 243.6 L203.3 243.0 L203.7 242.7 L204.2 242.7 L204.7 242.9 L205.2 243.4 L205.7 244.0 L206.2 244.9 L206.7 245.9 L207.2 247.0 L207.7 248.2 L208.1 249.4 L208.6 250.6 L209.1 251.7 L209.6 252.8 L210.1 253.8 L210.6 254.7 L211.1 255.5 L211.6 256.1 L212.1 256.7 L212.5 257.1 L213.0 257.4 L213.5 257.5 L214.0 257.6 L214.5 257.6 L215.0 257.4 L215.5 257.2 L216.0 256.9 L216.5 256.6 L216.9 256.2 L217.4 255.7 L217.9 255.3 L218.4 254.8 L218.9 254.3 L219.4 253.8 L219.9 253.4 L220.4 252.9 L220.8 252.5 L221.3 252.2 L221.8 251.9 L222.3 251.6 L222.8 251.4 L223.3 251.3 L223.8 251.3 L224.3 251.3 L224.8 251.4 L225.2 251.6 L225.7 251.8 L226.2 252.1 L226.7 252.5 L227.2 252.9 L227.7 253.3 L228.2 253.8 L228.7 254.3 L229.2 254.8 L229.6 255.2 L230.1 255.7 L230.6 256.2 L231.1 256.6 L231.6 256.9 L232.1 257.2 L232.6 257.4 L233.1 257.6 L233.6 257.6 L234.0 257.5 L234.5 257.4 L235.0 257.1 L235.5 256.7 L236.0 256.2 L236.5 255.5 L237.0 254.8 L237.5 253.9 L238.0 252.9 L238.4 251.8 L238.9 250.7 L239.4 249.5 L239.9 248.3 L240.4 247.1 L240.9 246.0 L241.4 245.0 L241.9 244.1 L242.3 243.4 L242.8 242.9 L243.3 242.7 L243.8 242.7 L244.3 243.0 L244.8 243.5 L245.3 244.3 L245.8 245.3 L246.3 246.6 L246.7 248.0 L247.2 249.6 L247.7 251.3 L248.2 253.1 L248.7 255.0 L249.2 256.9 L249.7 258.8 L250.2 260.7 L250.7 262.5 L251.1 264.4 L251.6 266.2 L252.1 267.9 L252.6 269.6 L253.1 271.3 L253.6 272.8 L254.1 274.3 L254.6 275.8 L255.1 277.2 L255.5 278.5 L256.0 279.8 L256.5 281.0 L257.0 282.1 L257.5 283.2 L258.0 284.2 L258.5 285.2 L259.0 286.2 L259.4 287.1 L259.9 288.0 L260.4 288.8 L260.9 289.6 L261.4 290.3 L261.9 291.1 L262.4 291.7 L262.9 292.4 L263.4 293.0 L263.8 293.6 L264.3 294.2 L264.8 294.8 L265.3 295.3 L265.8 295.8 L266.3 296.3 L266.8 296.8 L267.3 297.2 L267.8 297.7 L268.2 298.1 L268.7 298.5 L269.2 298.9 L269.7 299.3 L270.2 299.6 L270.7 300.0 L271.2 300.3 L271.7 300.6 L272.2 300.9 L272.6 301.2 L273.1 301.5 L273.6 301.8 L274.1 302.1 L274.6 302.4 L275.1 302.6 L275.6 302.9 L276.1 303.1 L276.5 303.3 L277.0 303.6 L277.5 303.8 L278.0 304.0 L278.5 304.2 L279.0 304.4 L279.5 304.6 L280.0 304.8 L280.5 305.0 L280.9 305.1 L281.4 305.3 L281.9 305.5 L282.4 305.7 L282.9 305.8 L283.4 306.0 L283.9 306.1 L284.4 306.3 L284.9 306.4 L285.3 306.5 L285.8 306.7 L286.3 306.8 L286.8 306.9 L287.3 307.1 L287.8 307.2 L288.3 307.3 L288.8 307.4 L289.3 307.5 L289.7 307.7 L290.2 307.8 L290.7 307.9 L291.2 308.0 L291.7 308.1 L292.2 308.2 L292.7 308.3 L293.2 308.4 L293.6 308.5 L294.1 308.6 L294.6 308.6 L295.1 308.7 L295.6 308.8 L296.1 308.9 L296.6 309.0 L297.1 309.1 L297.6 309.1 L298.0 309.2 L298.5 309.3 L299.0 309.4 L299.5 309.4 L300.0 309.5 L300.5 309.6 L301.0 309.6 L301.5 309.7 L302.0 309.8 L302.4 309.8 L302.9 309.9 L303.4 310.0 L303.9 310.0 L304.4 310.1 L304.9 310.1 L305.4 310.2 L305.9 310.2 L306.4 310.3 L306.8 310.3 L307.3 310.4 L307.8 310.5 L308.3 310.5 L308.8 310.6 L309.3 310.6 L309.8 310.6 L310.3 310.7 L310.8 310.7 L311.2 310.8 L311.7 310.8 L312.2 310.9 L312.7 310.9 L313.2 311.0 L313.7 311.0 L314.2 311.0 L314.7 311.1 L315.1 311.1 L315.6 311.2 L316.1 311.2 L316.6 311.2 L317.1 311.3 L317.6 311.3 L318.1 311.3 L318.6 311.4 L319.1 311.4 L319.5 311.5 L320.0 311.5 L320.5 311.5 L321.0 311.6 L321.5 311.6" stroke="#0000dc" stroke-width="1.65"/>
<path d="M126.5 311.7 L127.0 311.7 L127.5 311.6 L128.0 311.6 L128.5 311.6 L129.0 311.6 L129.5 311.5 L130.0 311.5 L130.5 311.5 L130.9 311.4 L131.4 311.4 L131.9 311.4 L132.4 311.3 L132.9 311.3 L133.4 311.2 L133.9 311.2 L134.4 311.2 L134.9 311.1 L135.3 311.1 L135.8 311.1 L136.3 311.0 L136.8 311.0 L137.3 310.9 L137.8 310.9 L138.3 310.9 L138.8 310.8 L139.3 310.8 L139.7 310.7 L140.2 310.7 L140.7 310.6 L141.2 310.6 L141.7 310.5 L142.2 310.5 L142.7 310.4 L143.2 310.4 L143.7 310.3 L144.1 310.3 L144.6 310.2 L145.1 310.2 L145.6 310.1 L146.1 310.1 L146.6 310.0 L147.1 310.0 L147.6 309.9 L148.0 309.8 L148.5 309.8 L149.0 309.7 L149.5 309.7 L150.0 309.6 L150.5 309.5 L151.0 309.5 L151.5 309.4 L152.0 309.3 L152.4 309.3 L152.9 309.2 L153.4 309.1 L153.9 309.0 L154.4 309.0 L154.9 308.9 L155.4 308.8 L155.9 308.7 L156.4 308.6 L156.8 308.6 L157.3 308.5 L157.8 308.4 L158.3 308.3 L158.8 308.2 L159.3 308.1 L159.8 308.0 L160.3 307.9 L160.8 307.8 L161.2 307.7 L161.7 307.6 L162.2 307.5 L162.7 307.4 L163.2 307.3 L163.7 307.2 L164.2 307.1 L164.7 306.9 L165.1 306.8 L165.6 306.7 L166.1 306.6 L166.6 306.4 L167.1 306.3 L167.6 306.2 L168.1 306.0 L168.6 305.9 L169.1 305.7 L169.5 305.6 L170.0 305.4 L170.5 305.3 L171.0 305.1 L171.5 305.0 L172.0 304.8 L172.5 304.6 L173.0 304.4 L173.5 304.3 L173.9 304.1 L174.4 303.9 L174.9 303.7 L175.4 303.5 L175.9 303.3 L176.4 303.1 L176.9 302.8 L177.4 302.6 L177.9 302.4 L178.3 302.1 L178.8 301.9 L179.3 301.7 L179.8 301.4 L180.3 301.1 L180.8 300.9 L181.3 300.6 L181.8 300.3 L182.2 300.0 L182.7 299.7 L183.2 299.4 L183.7 299.0 L184.2 298.7 L184.7 298.4 L185.2 298.0 L185.7 297.6 L186.2 297.3 L186.6 296.9 L187.1 296.5 L187.6 296.0 L188.1 295.6 L188.6 295.2 L189.1 294.7 L189.6 294.2 L190.1 293.7 L190.6 293.2 L191.0 292.7 L191.5 292.2 L192.0 291.6 L192.5 291.0 L193.0 290.4 L193.5 289.8 L194.0 289.2 L194.5 288.5 L195.0 287.8 L195.4 287.1 L195.9 286.4 L196.4 285.6 L196.9 284.8 L197.4 284.0 L197.9 283.1 L198.4 282.3 L198.9 281.3 L199.4 280.4 L199.8 279.4 L200.3 278.4 L200.8 277.3 L201.3 276.2 L201.8 275.1 L202.3 273.9 L202.8 272.7 L203.3 271.4 L203.7 270.1 L204.2 268.7 L204.7 267.3 L205.2 265.9 L205.7 264.3 L206.2 262.8 L206.7 261.1 L207.2 259.5 L207.7 257.7 L208.1 255.9 L208.6 254.1 L209.1 252.2 L209.6 250.2 L210.1 248.2 L210.6 246.2 L211.1 244.1 L211.6 241.9 L212.1 239.7 L212.5 237.5 L213.0 235.2 L213.5 232.9 L214.0 230.6 L214.5 228.2 L215.0 225.9 L215.5 223.6 L216.0 221.3 L216.5 219.0 L216.9 216.8 L217.4 214.6 L217.9 212.5 L218.4 210.4 L218.9 208.5 L219.4 206.7 L219.9 205.1 L220.4 203.6 L220.8 202.2 L221.3 201.1 L221.8 200.1 L222.3 199.3 L222.8 198.8 L223.3 198.4 L223.8 198.3 L224.3 198.4 L224.8 198.7 L225.2 199.3 L225.7 200.0 L226.2 201.0 L226.7 202.1 L227.2 203.5 L227.7 204.9 L228.2 206.6 L228.7 208.4 L229.2 210.3 L229.6 212.3 L230.1 214.4 L230.6 216.6 L231.1 218.8 L231.6 221.1 L232.1 223.4 L232.6 225.7 L233.1 228.1 L233.6 230.4 L234.0 232.7 L234.5 235.0 L235.0 237.3 L235.5 239.5 L236.0 241.7 L236.5 243.9 L237.0 246.0 L237.5 248.1 L238.0 250.1 L238.4 252.0 L238.9 254.0 L239.4 255.8 L239.9 257.6 L240.4 259.3 L240.9 261.0 L241.4 262.6 L241.9 264.2 L242.3 265.7 L242.8 267.2 L243.3 268.6 L243.8 270.0 L244.3 271.3 L244.8 272.6 L245.3 273.8 L245.8 275.0 L246.3 276.1 L246.7 277.2 L247.2 278.3 L247.7 279.3 L248.2 280.3 L248.7 281.3 L249.2 282.2 L249.7 283.1 L250.2 283.9 L250.7 284.8 L251.1 285.5 L251.6 286.3 L252.1 287.1 L252.6 287.8 L253.1 288.5 L253.6 289.1 L254.1 289.8 L254.6 290.4 L255.1 291.0 L255.5 291.6 L256.0 292.1 L256.5 292.7 L257.0 293.2 L257.5 293.7 L258.0 294.2 L258.5 294.7 L259.0 295.1 L259.4 295.6 L259.9 296.0 L260.4 296.4 L260.9 296.8 L261.4 297.2 L261.9 297.6 L262.4 298.0 L262.9 298.3 L263.4 298.7 L263.8 299.0 L264.3 299.3 L264.8 299.7 L265.3 300.0 L265.8 300.3 L266.3 300.6 L266.8 300.8 L267.3 301.1 L267.8 301.4 L268.2 301.6 L268.7 301.9 L269.2 302.1 L269.7 302.4 L270.2 302.6 L270.7 302.8 L271.2 303.0 L271.7 303.3 L272.2 303.5 L272.6 303.7 L273.1 303.9 L273.6 304.1 L274.1 304.2 L274.6 304.4 L275.1 304.6 L275.6 304.8 L276.1 304.9 L276.5 305.1 L277.0 305.3 L277.5 305.4 L278.0 305.6 L278.5 305.7 L279.0 305.9 L279.5 306.0 L280.0 306.2 L280.5 306.3 L280.9 306.4 L281.4 306.6 L281.9 306.7 L282.4 306.8 L282.9 306.9 L283.4 307.0 L283.9 307.2 L284.4 307.3 L284.9 307.4 L285.3 307.5 L285.8 307.6 L286.3 307.7 L286.8 307.8 L287.3 307.9 L287.8 308.0 L288.3 308.1 L288.8 308.2 L289.3 308.3 L289.7 308.4 L290.2 308.5 L290.7 308.5 L291.2 308.6 L291.7 308.7 L292.2 308.8 L292.7 308.9 L293.2 309.0 L293.6 309.0 L294.1 309.1 L294.6 309.2 L295.1 309.3 L295.6 309.3 L296.1 309.4 L296.6 309.5 L297.1 309.5 L297.6 309.6 L298.0 309.7 L298.5 309.7 L299.0 309.8 L299.5 309.8 L300.0 309.9 L300.5 310.0 L301.0 310.0 L301.5 310.1 L302.0 310.1 L302.4 310.2 L302.9 310.2 L303.4 310.3 L303.9 310.3 L304.4 310.4 L304.9 310.4 L305.4 310.5 L305.9 310.5 L306.4 310.6 L306.8 310.6 L307.3 310.7 L307.8 310.7 L308.3 310.8 L308.8 310.8 L309.3 310.9 L309.8 310.9 L310.3 310.9 L310.8 311.0 L311.2 311.0 L311.7 311.1 L312.2 311.1 L312.7 311.1 L313.2 311.2 L313.7 311.2 L314.2 311.2 L314.7 311.3 L315.1 311.3 L315.6 311.4 L316.1 311.4 L316.6 311.4 L317.1 311.5 L317.6 311.5 L318.1 311.5 L318.6 311.6 L319.1 311.6 L319.5 311.6 L320.0 311.6 L320.5 311.7 L321.0 311.7 L321.5 311.7" stroke="#262626" stroke-width="1.5" stroke-dasharray="1.05 1.15"/>
<path d="M126.5 311.5 L127.0 311.5 L127.5 311.5 L128.0 311.4 L128.5 311.4 L129.0 311.4 L129.5 311.3 L130.0 311.3 L130.5 311.3 L130.9 311.2 L131.4 311.2 L131.9 311.1 L132.4 311.1 L132.9 311.1 L133.4 311.0 L133.9 311.0 L134.4 310.9 L134.9 310.9 L135.3 310.8 L135.8 310.8 L136.3 310.8 L136.8 310.7 L137.3 310.7 L137.8 310.6 L138.3 310.6 L138.8 310.5 L139.3 310.5 L139.7 310.4 L140.2 310.4 L140.7 310.3 L141.2 310.3 L141.7 310.2 L142.2 310.1 L142.7 310.1 L143.2 310.0 L143.7 310.0 L144.1 309.9 L144.6 309.8 L145.1 309.8 L145.6 309.7 L146.1 309.6 L146.6 309.6 L147.1 309.5 L147.6 309.4 L148.0 309.4 L148.5 309.3 L149.0 309.2 L149.5 309.1 L150.0 309.0 L150.5 309.0 L151.0 308.9 L151.5 308.8 L152.0 308.7 L152.4 308.6 L152.9 308.5 L153.4 308.4 L153.9 308.3 L154.4 308.2 L154.9 308.1 L155.4 308.0 L155.9 307.9 L156.4 307.8 L156.8 307.7 L157.3 307.6 L157.8 307.5 L158.3 307.3 L158.8 307.2 L159.3 307.1 L159.8 307.0 L160.3 306.8 L160.8 306.7 L161.2 306.5 L161.7 306.4 L162.2 306.3 L162.7 306.1 L163.2 305.9 L163.7 305.8 L164.2 305.6 L164.7 305.4 L165.1 305.2 L165.6 305.1 L166.1 304.9 L166.6 304.7 L167.1 304.5 L167.6 304.2 L168.1 304.0 L168.6 303.8 L169.1 303.6 L169.5 303.3 L170.0 303.1 L170.5 302.8 L171.0 302.5 L171.5 302.2 L172.0 301.9 L172.5 301.6 L173.0 301.3 L173.5 301.0 L173.9 300.6 L174.4 300.3 L174.9 299.9 L175.4 299.5 L175.9 299.1 L176.4 298.7 L176.9 298.2 L177.4 297.7 L177.9 297.2 L178.3 296.7 L178.8 296.2 L179.3 295.6 L179.8 295.1 L180.3 294.4 L180.8 293.8 L181.3 293.1 L181.8 292.4 L182.2 291.7 L182.7 290.9 L183.2 290.1 L183.7 289.3 L184.2 288.5 L184.7 287.6 L185.2 286.7 L185.7 285.8 L186.2 284.9 L186.6 284.0 L187.1 283.0 L187.6 282.1 L188.1 281.2 L188.6 280.4 L189.1 279.6 L189.6 278.8 L190.1 278.2 L190.6 277.6 L191.0 277.1 L191.5 276.7 L192.0 276.4 L192.5 276.2 L193.0 276.1 L193.5 276.1 L194.0 276.1 L194.5 276.2 L195.0 276.4 L195.4 276.5 L195.9 276.7 L196.4 276.9 L196.9 277.0 L197.4 277.1 L197.9 277.2 L198.4 277.2 L198.9 277.2 L199.4 277.1 L199.8 277.0 L200.3 276.8 L200.8 276.5 L201.3 276.2 L201.8 275.8 L202.3 275.3 L202.8 274.8 L203.3 274.2 L203.7 273.5 L204.2 272.8 L204.7 272.0 L205.2 271.1 L205.7 270.2 L206.2 269.2 L206.7 268.1 L207.2 267.0 L207.7 265.8 L208.1 264.6 L208.6 263.3 L209.1 262.0 L209.6 260.6 L210.1 259.1 L210.6 257.6 L211.1 256.0 L211.6 254.4 L212.1 252.8 L212.5 251.1 L213.0 249.4 L213.5 247.6 L214.0 245.8 L214.5 244.0 L215.0 242.2 L215.5 240.4 L216.0 238.7 L216.5 236.9 L216.9 235.1 L217.4 233.4 L217.9 231.8 L218.4 230.2 L218.9 228.7 L219.4 227.3 L219.9 226.0 L220.4 224.8 L220.8 223.8 L221.3 222.9 L221.8 222.1 L222.3 221.5 L222.8 221.1 L223.3 220.8 L223.8 220.7 L224.3 220.8 L224.8 221.0 L225.2 221.5 L225.7 222.1 L226.2 222.8 L226.7 223.7 L227.2 224.7 L227.7 225.9 L228.2 227.2 L228.7 228.6 L229.2 230.1 L229.6 231.7 L230.1 233.3 L230.6 235.0 L231.1 236.7 L231.6 238.5 L232.1 240.3 L232.6 242.1 L233.1 243.9 L233.6 245.7 L234.0 247.5 L234.5 249.2 L235.0 251.0 L235.5 252.6 L236.0 254.3 L236.5 255.9 L237.0 257.5 L237.5 259.0 L238.0 260.4 L238.4 261.9 L238.9 263.2 L239.4 264.5 L239.9 265.7 L240.4 266.9 L240.9 268.0 L241.4 269.1 L241.9 270.1 L242.3 271.0 L242.8 271.9 L243.3 272.7 L243.8 273.4 L244.3 274.1 L244.8 274.7 L245.3 275.3 L245.8 275.7 L246.3 276.2 L246.7 276.5 L247.2 276.8 L247.7 277.0 L248.2 277.1 L248.7 277.2 L249.2 277.2 L249.7 277.2 L250.2 277.1 L250.7 277.0 L251.1 276.9 L251.6 276.7 L252.1 276.6 L252.6 276.4 L253.1 276.2 L253.6 276.1 L254.1 276.1 L254.6 276.1 L255.1 276.2 L255.5 276.4 L256.0 276.7 L256.5 277.1 L257.0 277.6 L257.5 278.1 L258.0 278.8 L258.5 279.5 L259.0 280.3 L259.4 281.2 L259.9 282.0 L260.4 283.0 L260.9 283.9 L261.4 284.8 L261.9 285.7 L262.4 286.6 L262.9 287.5 L263.4 288.4 L263.8 289.3 L264.3 290.1 L264.8 290.9 L265.3 291.6 L265.8 292.4 L266.3 293.1 L266.8 293.7 L267.3 294.4 L267.8 295.0 L268.2 295.6 L268.7 296.2 L269.2 296.7 L269.7 297.2 L270.2 297.7 L270.7 298.2 L271.2 298.6 L271.7 299.1 L272.2 299.5 L272.6 299.9 L273.1 300.2 L273.6 300.6 L274.1 300.9 L274.6 301.3 L275.1 301.6 L275.6 301.9 L276.1 302.2 L276.5 302.5 L277.0 302.8 L277.5 303.0 L278.0 303.3 L278.5 303.5 L279.0 303.8 L279.5 304.0 L280.0 304.2 L280.5 304.4 L280.9 304.6 L281.4 304.8 L281.9 305.0 L282.4 305.2 L282.9 305.4 L283.4 305.6 L283.9 305.8 L284.4 305.9 L284.9 306.1 L285.3 306.2 L285.8 306.4 L286.3 306.5 L286.8 306.7 L287.3 306.8 L287.8 307.0 L288.3 307.1 L288.8 307.2 L289.3 307.3 L289.7 307.5 L290.2 307.6 L290.7 307.7 L291.2 307.8 L291.7 307.9 L292.2 308.0 L292.7 308.1 L293.2 308.2 L293.6 308.3 L294.1 308.4 L294.6 308.5 L295.1 308.6 L295.6 308.7 L296.1 308.8 L296.6 308.9 L297.1 309.0 L297.6 309.0 L298.0 309.1 L298.5 309.2 L299.0 309.3 L299.5 309.3 L300.0 309.4 L300.5 309.5 L301.0 309.6 L301.5 309.6 L302.0 309.7 L302.4 309.8 L302.9 309.8 L303.4 309.9 L303.9 310.0 L304.4 310.0 L304.9 310.1 L305.4 310.1 L305.9 310.2 L306.4 310.2 L306.8 310.3 L307.3 310.4 L307.8 310.4 L308.3 310.5 L308.8 310.5 L309.3 310.6 L309.8 310.6 L310.3 310.7 L310.8 310.7 L311.2 310.8 L311.7 310.8 L312.2 310.8 L312.7 310.9 L313.2 310.9 L313.7 311.0 L314.2 311.0 L314.7 311.1 L315.1 311.1 L315.6 311.1 L316.1 311.2 L316.6 311.2 L317.1 311.3 L317.6 311.3 L318.1 311.3 L318.6 311.4 L319.1 311.4 L319.5 311.4 L320.0 311.5 L320.5 311.5 L321.0 311.5 L321.5 311.6" stroke="#ff0000" stroke-width="1.65"/>
</g>
<g fill="none" stroke-linejoin="round">
<path d="M126.6 428.7 L127.1 428.7 L127.6 428.6 L128.1 428.6 L128.6 428.6 L129.0 428.5 L129.5 428.5 L130.0 428.5 L130.5 428.4 L131.0 428.4 L131.5 428.4 L132.0 428.3 L132.5 428.3 L133.0 428.3 L133.4 428.2 L133.9 428.2 L134.4 428.2 L134.9 428.1 L135.4 428.1 L135.9 428.0 L136.4 428.0 L136.9 428.0 L137.3 427.9 L137.8 427.9 L138.3 427.8 L138.8 427.8 L139.3 427.8 L139.8 427.7 L140.3 427.7 L140.8 427.6 L141.3 427.6 L141.7 427.5 L142.2 427.5 L142.7 427.4 L143.2 427.4 L143.7 427.3 L144.2 427.3 L144.7 427.2 L145.2 427.2 L145.7 427.1 L146.1 427.1 L146.6 427.0 L147.1 426.9 L147.6 426.9 L148.1 426.8 L148.6 426.8 L149.1 426.7 L149.6 426.6 L150.0 426.6 L150.5 426.5 L151.0 426.4 L151.5 426.4 L152.0 426.3 L152.5 426.2 L153.0 426.2 L153.5 426.1 L154.0 426.0 L154.4 425.9 L154.9 425.9 L155.4 425.8 L155.9 425.7 L156.4 425.6 L156.9 425.5 L157.4 425.4 L157.9 425.4 L158.4 425.3 L158.8 425.2 L159.3 425.1 L159.8 425.0 L160.3 424.9 L160.8 424.8 L161.3 424.7 L161.8 424.6 L162.3 424.5 L162.7 424.4 L163.2 424.3 L163.7 424.1 L164.2 424.0 L164.7 423.9 L165.2 423.8 L165.7 423.7 L166.2 423.5 L166.7 423.4 L167.1 423.3 L167.6 423.1 L168.1 423.0 L168.6 422.8 L169.1 422.7 L169.6 422.6 L170.1 422.4 L170.6 422.2 L171.1 422.1 L171.5 421.9 L172.0 421.7 L172.5 421.6 L173.0 421.4 L173.5 421.2 L174.0 421.0 L174.5 420.8 L175.0 420.6 L175.4 420.4 L175.9 420.2 L176.4 420.0 L176.9 419.8 L177.4 419.6 L177.9 419.3 L178.4 419.1 L178.9 418.8 L179.4 418.6 L179.8 418.3 L180.3 418.1 L180.8 417.8 L181.3 417.5 L181.8 417.2 L182.3 416.9 L182.8 416.6 L183.3 416.3 L183.8 415.9 L184.2 415.6 L184.7 415.3 L185.2 414.9 L185.7 414.5 L186.2 414.1 L186.7 413.8 L187.2 413.3 L187.7 412.9 L188.1 412.5 L188.6 412.0 L189.1 411.6 L189.6 411.1 L190.1 410.6 L190.6 410.1 L191.1 409.6 L191.6 409.0 L192.1 408.5 L192.5 407.9 L193.0 407.3 L193.5 406.6 L194.0 406.0 L194.5 405.3 L195.0 404.6 L195.5 403.9 L196.0 403.2 L196.5 402.4 L196.9 401.6 L197.4 400.8 L197.9 399.9 L198.4 399.0 L198.9 398.1 L199.4 397.1 L199.9 396.1 L200.4 395.1 L200.8 394.0 L201.3 392.9 L201.8 391.8 L202.3 390.6 L202.8 389.3 L203.3 388.1 L203.8 386.7 L204.3 385.4 L204.8 383.9 L205.2 382.5 L205.7 380.9 L206.2 379.3 L206.7 377.7 L207.2 376.0 L207.7 374.3 L208.2 372.5 L208.7 370.6 L209.2 368.7 L209.6 366.7 L210.1 364.7 L210.6 362.6 L211.1 360.5 L211.6 358.3 L212.1 356.1 L212.6 353.9 L213.1 351.6 L213.5 349.3 L214.0 347.0 L214.5 344.6 L215.0 342.3 L215.5 340.0 L216.0 337.7 L216.5 335.4 L217.0 333.2 L217.5 331.0 L217.9 328.9 L218.4 326.9 L218.9 325.1 L219.4 323.3 L219.9 321.7 L220.4 320.2 L220.9 318.9 L221.4 317.8 L221.9 316.9 L222.3 316.2 L222.8 315.7 L223.3 315.4 L223.8 315.3 L224.3 315.5 L224.8 315.8 L225.3 316.4 L225.8 317.2 L226.2 318.2 L226.7 319.4 L227.2 320.8 L227.7 322.4 L228.2 324.0 L228.7 325.9 L229.2 327.8 L229.7 329.8 L230.2 331.9 L230.6 334.1 L231.1 336.4 L231.6 338.7 L232.1 341.0 L232.6 343.3 L233.1 345.7 L233.6 348.0 L234.1 350.3 L234.6 352.6 L235.0 354.9 L235.5 357.1 L236.0 359.3 L236.5 361.4 L237.0 363.5 L237.5 365.6 L238.0 367.6 L238.5 369.5 L238.9 371.4 L239.4 373.2 L239.9 375.0 L240.4 376.8 L240.9 378.4 L241.4 380.0 L241.9 381.6 L242.4 383.1 L242.9 384.6 L243.3 386.0 L243.8 387.3 L244.3 388.6 L244.8 389.9 L245.3 391.1 L245.8 392.3 L246.3 393.4 L246.8 394.5 L247.3 395.6 L247.7 396.6 L248.2 397.6 L248.7 398.5 L249.2 399.4 L249.7 400.3 L250.2 401.1 L250.7 401.9 L251.2 402.7 L251.6 403.5 L252.1 404.2 L252.6 404.9 L253.1 405.6 L253.6 406.3 L254.1 406.9 L254.6 407.5 L255.1 408.1 L255.6 408.7 L256.0 409.3 L256.5 409.8 L257.0 410.3 L257.5 410.8 L258.0 411.3 L258.5 411.8 L259.0 412.2 L259.5 412.7 L260.0 413.1 L260.4 413.5 L260.9 413.9 L261.4 414.3 L261.9 414.7 L262.4 415.1 L262.9 415.4 L263.4 415.8 L263.9 416.1 L264.3 416.4 L264.8 416.7 L265.3 417.0 L265.8 417.3 L266.3 417.6 L266.8 417.9 L267.3 418.2 L267.8 418.4 L268.3 418.7 L268.7 418.9 L269.2 419.2 L269.7 419.4 L270.2 419.7 L270.7 419.9 L271.2 420.1 L271.7 420.3 L272.2 420.5 L272.7 420.7 L273.1 420.9 L273.6 421.1 L274.1 421.3 L274.6 421.5 L275.1 421.6 L275.6 421.8 L276.1 422.0 L276.6 422.1 L277.0 422.3 L277.5 422.5 L278.0 422.6 L278.5 422.8 L279.0 422.9 L279.5 423.1 L280.0 423.2 L280.5 423.3 L281.0 423.5 L281.4 423.6 L281.9 423.7 L282.4 423.8 L282.9 424.0 L283.4 424.1 L283.9 424.2 L284.4 424.3 L284.9 424.4 L285.4 424.5 L285.8 424.6 L286.3 424.7 L286.8 424.8 L287.3 424.9 L287.8 425.0 L288.3 425.1 L288.8 425.2 L289.3 425.3 L289.7 425.4 L290.2 425.5 L290.7 425.6 L291.2 425.7 L291.7 425.7 L292.2 425.8 L292.7 425.9 L293.2 426.0 L293.7 426.0 L294.1 426.1 L294.6 426.2 L295.1 426.3 L295.6 426.3 L296.1 426.4 L296.6 426.5 L297.1 426.5 L297.6 426.6 L298.1 426.7 L298.5 426.7 L299.0 426.8 L299.5 426.9 L300.0 426.9 L300.5 427.0 L301.0 427.0 L301.5 427.1 L302.0 427.1 L302.4 427.2 L302.9 427.2 L303.4 427.3 L303.9 427.3 L304.4 427.4 L304.9 427.5 L305.4 427.5 L305.9 427.5 L306.4 427.6 L306.8 427.6 L307.3 427.7 L307.8 427.7 L308.3 427.8 L308.8 427.8 L309.3 427.9 L309.8 427.9 L310.3 427.9 L310.8 428.0 L311.2 428.0 L311.7 428.1 L312.2 428.1 L312.7 428.1 L313.2 428.2 L313.7 428.2 L314.2 428.3 L314.7 428.3 L315.1 428.3 L315.6 428.4 L316.1 428.4 L316.6 428.4 L317.1 428.5 L317.6 428.5 L318.1 428.5 L318.6 428.6 L319.1 428.6 L319.5 428.6 L320.0 428.6 L320.5 428.7 L321.0 428.7 L321.5 428.7" stroke="#7c7c7c" stroke-width="1.3"/>
<path d="M126.6 428.5 L127.1 428.5 L127.6 428.5 L128.1 428.4 L128.6 428.4 L129.0 428.4 L129.5 428.3 L130.0 428.3 L130.5 428.3 L131.0 428.2 L131.5 428.2 L132.0 428.2 L132.5 428.1 L133.0 428.1 L133.4 428.0 L133.9 428.0 L134.4 428.0 L134.9 427.9 L135.4 427.9 L135.9 427.8 L136.4 427.8 L136.9 427.7 L137.3 427.7 L137.8 427.6 L138.3 427.6 L138.8 427.5 L139.3 427.5 L139.8 427.4 L140.3 427.4 L140.8 427.3 L141.3 427.3 L141.7 427.2 L142.2 427.2 L142.7 427.1 L143.2 427.1 L143.7 427.0 L144.2 426.9 L144.7 426.9 L145.2 426.8 L145.7 426.8 L146.1 426.7 L146.6 426.6 L147.1 426.6 L147.6 426.5 L148.1 426.4 L148.6 426.3 L149.1 426.3 L149.6 426.2 L150.0 426.1 L150.5 426.0 L151.0 426.0 L151.5 425.9 L152.0 425.8 L152.5 425.7 L153.0 425.6 L153.5 425.5 L154.0 425.4 L154.4 425.3 L154.9 425.3 L155.4 425.2 L155.9 425.1 L156.4 425.0 L156.9 424.9 L157.4 424.7 L157.9 424.6 L158.4 424.5 L158.8 424.4 L159.3 424.3 L159.8 424.2 L160.3 424.0 L160.8 423.9 L161.3 423.8 L161.8 423.7 L162.3 423.5 L162.7 423.4 L163.2 423.2 L163.7 423.1 L164.2 422.9 L164.7 422.8 L165.2 422.6 L165.7 422.5 L166.2 422.3 L166.7 422.1 L167.1 421.9 L167.6 421.7 L168.1 421.6 L168.6 421.4 L169.1 421.2 L169.6 420.9 L170.1 420.7 L170.6 420.5 L171.1 420.3 L171.5 420.0 L172.0 419.8 L172.5 419.5 L173.0 419.3 L173.5 419.0 L174.0 418.7 L174.5 418.5 L175.0 418.2 L175.4 417.9 L175.9 417.5 L176.4 417.2 L176.9 416.9 L177.4 416.5 L177.9 416.1 L178.4 415.8 L178.9 415.4 L179.4 415.0 L179.8 414.5 L180.3 414.1 L180.8 413.6 L181.3 413.1 L181.8 412.6 L182.3 412.1 L182.8 411.6 L183.3 411.0 L183.8 410.4 L184.2 409.8 L184.7 409.1 L185.2 408.5 L185.7 407.8 L186.2 407.0 L186.7 406.2 L187.2 405.4 L187.7 404.6 L188.1 403.7 L188.6 402.8 L189.1 401.8 L189.6 400.8 L190.1 399.7 L190.6 398.6 L191.1 397.4 L191.6 396.2 L192.1 395.0 L192.5 393.7 L193.0 392.3 L193.5 390.9 L194.0 389.5 L194.5 388.0 L195.0 386.5 L195.5 384.9 L196.0 383.4 L196.5 381.8 L196.9 380.3 L197.4 378.8 L197.9 377.3 L198.4 375.9 L198.9 374.6 L199.4 373.3 L199.9 372.2 L200.4 371.2 L200.8 370.3 L201.3 369.5 L201.8 368.8 L202.3 368.2 L202.8 367.7 L203.3 367.3 L203.8 366.8 L204.3 366.4 L204.8 365.9 L205.2 365.4 L205.7 364.9 L206.2 364.3 L206.7 363.6 L207.2 362.9 L207.7 362.0 L208.2 361.1 L208.7 360.1 L209.2 359.1 L209.6 358.0 L210.1 356.9 L210.6 355.9 L211.1 354.8 L211.6 353.9 L212.1 353.1 L212.6 352.5 L213.1 352.1 L213.5 352.1 L214.0 352.3 L214.5 353.0 L215.0 354.0 L215.5 355.6 L216.0 357.5 L216.5 360.0 L217.0 362.9 L217.5 366.1 L217.9 369.7 L218.4 373.5 L218.9 377.4 L219.4 381.3 L219.9 385.2 L220.4 388.8 L220.9 392.2 L221.4 395.2 L221.9 397.7 L222.3 399.7 L222.8 401.1 L223.3 401.9 L223.8 402.0 L224.3 401.6 L224.8 400.5 L225.3 398.9 L225.8 396.6 L226.2 393.9 L226.7 390.8 L227.2 387.3 L227.7 383.5 L228.2 379.6 L228.7 375.7 L229.2 371.8 L229.7 368.1 L230.2 364.6 L230.6 361.6 L231.1 358.9 L231.6 356.6 L232.1 354.8 L232.6 353.5 L233.1 352.6 L233.6 352.2 L234.1 352.1 L234.6 352.3 L235.0 352.8 L235.5 353.4 L236.0 354.3 L236.5 355.3 L237.0 356.3 L237.5 357.4 L238.0 358.5 L238.5 359.5 L238.9 360.6 L239.4 361.5 L239.9 362.4 L240.4 363.2 L240.9 363.9 L241.4 364.6 L241.9 365.2 L242.4 365.7 L242.9 366.1 L243.3 366.6 L243.8 367.0 L244.3 367.4 L244.8 367.9 L245.3 368.5 L245.8 369.1 L246.3 369.8 L246.8 370.7 L247.3 371.6 L247.7 372.7 L248.2 373.9 L248.7 375.1 L249.2 376.5 L249.7 377.9 L250.2 379.4 L250.7 380.9 L251.2 382.5 L251.6 384.0 L252.1 385.6 L252.6 387.1 L253.1 388.6 L253.6 390.1 L254.1 391.5 L254.6 392.9 L255.1 394.2 L255.6 395.5 L256.0 396.8 L256.5 398.0 L257.0 399.1 L257.5 400.2 L258.0 401.2 L258.5 402.2 L259.0 403.2 L259.5 404.1 L260.0 405.0 L260.4 405.8 L260.9 406.6 L261.4 407.3 L261.9 408.1 L262.4 408.8 L262.9 409.4 L263.4 410.1 L263.9 410.7 L264.3 411.2 L264.8 411.8 L265.3 412.3 L265.8 412.9 L266.3 413.3 L266.8 413.8 L267.3 414.3 L267.8 414.7 L268.3 415.1 L268.7 415.5 L269.2 415.9 L269.7 416.3 L270.2 416.7 L270.7 417.0 L271.2 417.4 L271.7 417.7 L272.2 418.0 L272.7 418.3 L273.1 418.6 L273.6 418.9 L274.1 419.1 L274.6 419.4 L275.1 419.7 L275.6 419.9 L276.1 420.1 L276.6 420.4 L277.0 420.6 L277.5 420.8 L278.0 421.0 L278.5 421.2 L279.0 421.4 L279.5 421.6 L280.0 421.8 L280.5 422.0 L281.0 422.2 L281.4 422.4 L281.9 422.5 L282.4 422.7 L282.9 422.8 L283.4 423.0 L283.9 423.1 L284.4 423.3 L284.9 423.4 L285.4 423.6 L285.8 423.7 L286.3 423.8 L286.8 424.0 L287.3 424.1 L287.8 424.2 L288.3 424.3 L288.8 424.5 L289.3 424.6 L289.7 424.7 L290.2 424.8 L290.7 424.9 L291.2 425.0 L291.7 425.1 L292.2 425.2 L292.7 425.3 L293.2 425.4 L293.7 425.5 L294.1 425.6 L294.6 425.7 L295.1 425.7 L295.6 425.8 L296.1 425.9 L296.6 426.0 L297.1 426.1 L297.6 426.2 L298.1 426.2 L298.5 426.3 L299.0 426.4 L299.5 426.4 L300.0 426.5 L300.5 426.6 L301.0 426.6 L301.5 426.7 L302.0 426.8 L302.4 426.8 L302.9 426.9 L303.4 427.0 L303.9 427.0 L304.4 427.1 L304.9 427.1 L305.4 427.2 L305.9 427.3 L306.4 427.3 L306.8 427.4 L307.3 427.4 L307.8 427.5 L308.3 427.5 L308.8 427.6 L309.3 427.6 L309.8 427.7 L310.3 427.7 L310.8 427.8 L311.2 427.8 L311.7 427.8 L312.2 427.9 L312.7 427.9 L313.2 428.0 L313.7 428.0 L314.2 428.1 L314.7 428.1 L315.1 428.1 L315.6 428.2 L316.1 428.2 L316.6 428.2 L317.1 428.3 L317.6 428.3 L318.1 428.4 L318.6 428.4 L319.1 428.4 L319.5 428.5 L320.0 428.5 L320.5 428.5 L321.0 428.6 L321.5 428.6" stroke="#0000dc" stroke-width="1.65"/>
<path d="M126.6 428.7 L127.1 428.7 L127.6 428.6 L128.1 428.6 L128.6 428.6 L129.0 428.5 L129.5 428.5 L130.0 428.5 L130.5 428.4 L131.0 428.4 L131.5 428.4 L132.0 428.3 L132.5 428.3 L133.0 428.3 L133.4 428.2 L133.9 428.2 L134.4 428.2 L134.9 428.1 L135.4 428.1 L135.9 428.0 L136.4 428.0 L136.9 428.0 L137.3 427.9 L137.8 427.9 L138.3 427.8 L138.8 427.8 L139.3 427.8 L139.8 427.7 L140.3 427.7 L140.8 427.6 L141.3 427.6 L141.7 427.5 L142.2 427.5 L142.7 427.4 L143.2 427.4 L143.7 427.3 L144.2 427.3 L144.7 427.2 L145.2 427.2 L145.7 427.1 L146.1 427.1 L146.6 427.0 L147.1 426.9 L147.6 426.9 L148.1 426.8 L148.6 426.8 L149.1 426.7 L149.6 426.6 L150.0 426.6 L150.5 426.5 L151.0 426.4 L151.5 426.4 L152.0 426.3 L152.5 426.2 L153.0 426.2 L153.5 426.1 L154.0 426.0 L154.4 425.9 L154.9 425.9 L155.4 425.8 L155.9 425.7 L156.4 425.6 L156.9 425.5 L157.4 425.4 L157.9 425.4 L158.4 425.3 L158.8 425.2 L159.3 425.1 L159.8 425.0 L160.3 424.9 L160.8 424.8 L161.3 424.7 L161.8 424.6 L162.3 424.5 L162.7 424.4 L163.2 424.3 L163.7 424.1 L164.2 424.0 L164.7 423.9 L165.2 423.8 L165.7 423.7 L166.2 423.5 L166.7 423.4 L167.1 423.3 L167.6 423.1 L168.1 423.0 L168.6 422.8 L169.1 422.7 L169.6 422.6 L170.1 422.4 L170.6 422.2 L171.1 422.1 L171.5 421.9 L172.0 421.7 L172.5 421.6 L173.0 421.4 L173.5 421.2 L174.0 421.0 L174.5 420.8 L175.0 420.6 L175.4 420.4 L175.9 420.2 L176.4 420.0 L176.9 419.8 L177.4 419.6 L177.9 419.3 L178.4 419.1 L178.9 418.8 L179.4 418.6 L179.8 418.3 L180.3 418.1 L180.8 417.8 L181.3 417.5 L181.8 417.2 L182.3 416.9 L182.8 416.6 L183.3 416.3 L183.8 415.9 L184.2 415.6 L184.7 415.3 L185.2 414.9 L185.7 414.5 L186.2 414.1 L186.7 413.8 L187.2 413.3 L187.7 412.9 L188.1 412.5 L188.6 412.0 L189.1 411.6 L189.6 411.1 L190.1 410.6 L190.6 410.1 L191.1 409.6 L191.6 409.0 L192.1 408.5 L192.5 407.9 L193.0 407.3 L193.5 406.6 L194.0 406.0 L194.5 405.3 L195.0 404.6 L195.5 403.9 L196.0 403.2 L196.5 402.4 L196.9 401.6 L197.4 400.8 L197.9 399.9 L198.4 399.0 L198.9 398.1 L199.4 397.1 L199.9 396.1 L200.4 395.1 L200.8 394.0 L201.3 392.9 L201.8 391.8 L202.3 390.6 L202.8 389.3 L203.3 388.1 L203.8 386.7 L204.3 385.4 L204.8 383.9 L205.2 382.5 L205.7 380.9 L206.2 379.3 L206.7 377.7 L207.2 376.0 L207.7 374.3 L208.2 372.5 L208.7 370.6 L209.2 368.7 L209.6 366.7 L210.1 364.7 L210.6 362.6 L211.1 360.5 L211.6 358.3 L212.1 356.1 L212.6 353.9 L213.1 351.6 L213.5 349.3 L214.0 347.0 L214.5 344.6 L215.0 342.3 L215.5 340.0 L216.0 337.7 L216.5 335.4 L217.0 333.2 L217.5 331.0 L217.9 328.9 L218.4 326.9 L218.9 325.1 L219.4 323.3 L219.9 321.7 L220.4 320.2 L220.9 318.9 L221.4 317.8 L221.9 316.9 L222.3 316.2 L222.8 315.7 L223.3 315.4 L223.8 315.3 L224.3 315.5 L224.8 315.8 L225.3 316.4 L225.8 317.2 L226.2 318.2 L226.7 319.4 L227.2 320.8 L227.7 322.4 L228.2 324.0 L228.7 325.9 L229.2 327.8 L229.7 329.8 L230.2 331.9 L230.6 334.1 L231.1 336.4 L231.6 338.7 L232.1 341.0 L232.6 343.3 L233.1 345.7 L233.6 348.0 L234.1 350.3 L234.6 352.6 L235.0 354.9 L235.5 357.1 L236.0 359.3 L236.5 361.4 L237.0 363.5 L237.5 365.6 L238.0 367.6 L238.5 369.5 L238.9 371.4 L239.4 373.2 L239.9 375.0 L240.4 376.8 L240.9 378.4 L241.4 380.0 L241.9 381.6 L242.4 383.1 L242.9 384.6 L243.3 386.0 L243.8 387.3 L244.3 388.6 L244.8 389.9 L245.3 391.1 L245.8 392.3 L246.3 393.4 L246.8 394.5 L247.3 395.6 L247.7 396.6 L248.2 397.6 L248.7 398.5 L249.2 399.4 L249.7 400.3 L250.2 401.1 L250.7 401.9 L251.2 402.7 L251.6 403.5 L252.1 404.2 L252.6 404.9 L253.1 405.6 L253.6 406.3 L254.1 406.9 L254.6 407.5 L255.1 408.1 L255.6 408.7 L256.0 409.3 L256.5 409.8 L257.0 410.3 L257.5 410.8 L258.0 411.3 L258.5 411.8 L259.0 412.2 L259.5 412.7 L260.0 413.1 L260.4 413.5 L260.9 413.9 L261.4 414.3 L261.9 414.7 L262.4 415.1 L262.9 415.4 L263.4 415.8 L263.9 416.1 L264.3 416.4 L264.8 416.7 L265.3 417.0 L265.8 417.3 L266.3 417.6 L266.8 417.9 L267.3 418.2 L267.8 418.4 L268.3 418.7 L268.7 418.9 L269.2 419.2 L269.7 419.4 L270.2 419.7 L270.7 419.9 L271.2 420.1 L271.7 420.3 L272.2 420.5 L272.7 420.7 L273.1 420.9 L273.6 421.1 L274.1 421.3 L274.6 421.5 L275.1 421.6 L275.6 421.8 L276.1 422.0 L276.6 422.1 L277.0 422.3 L277.5 422.5 L278.0 422.6 L278.5 422.8 L279.0 422.9 L279.5 423.1 L280.0 423.2 L280.5 423.3 L281.0 423.5 L281.4 423.6 L281.9 423.7 L282.4 423.8 L282.9 424.0 L283.4 424.1 L283.9 424.2 L284.4 424.3 L284.9 424.4 L285.4 424.5 L285.8 424.6 L286.3 424.7 L286.8 424.8 L287.3 424.9 L287.8 425.0 L288.3 425.1 L288.8 425.2 L289.3 425.3 L289.7 425.4 L290.2 425.5 L290.7 425.6 L291.2 425.7 L291.7 425.7 L292.2 425.8 L292.7 425.9 L293.2 426.0 L293.7 426.0 L294.1 426.1 L294.6 426.2 L295.1 426.3 L295.6 426.3 L296.1 426.4 L296.6 426.5 L297.1 426.5 L297.6 426.6 L298.1 426.7 L298.5 426.7 L299.0 426.8 L299.5 426.9 L300.0 426.9 L300.5 427.0 L301.0 427.0 L301.5 427.1 L302.0 427.1 L302.4 427.2 L302.9 427.2 L303.4 427.3 L303.9 427.3 L304.4 427.4 L304.9 427.5 L305.4 427.5 L305.9 427.5 L306.4 427.6 L306.8 427.6 L307.3 427.7 L307.8 427.7 L308.3 427.8 L308.8 427.8 L309.3 427.9 L309.8 427.9 L310.3 427.9 L310.8 428.0 L311.2 428.0 L311.7 428.1 L312.2 428.1 L312.7 428.1 L313.2 428.2 L313.7 428.2 L314.2 428.3 L314.7 428.3 L315.1 428.3 L315.6 428.4 L316.1 428.4 L316.6 428.4 L317.1 428.5 L317.6 428.5 L318.1 428.5 L318.6 428.6 L319.1 428.6 L319.5 428.6 L320.0 428.6 L320.5 428.7 L321.0 428.7 L321.5 428.7" stroke="#262626" stroke-width="1.5" stroke-dasharray="1.05 1.15"/>
<path d="M126.6 428.5 L127.1 428.5 L127.6 428.5 L128.1 428.4 L128.6 428.4 L129.0 428.4 L129.5 428.3 L130.0 428.3 L130.5 428.3 L131.0 428.2 L131.5 428.2 L132.0 428.2 L132.5 428.1 L133.0 428.1 L133.4 428.0 L133.9 428.0 L134.4 428.0 L134.9 427.9 L135.4 427.9 L135.9 427.8 L136.4 427.8 L136.9 427.7 L137.3 427.7 L137.8 427.6 L138.3 427.6 L138.8 427.5 L139.3 427.5 L139.8 427.4 L140.3 427.4 L140.8 427.3 L141.3 427.3 L141.7 427.2 L142.2 427.2 L142.7 427.1 L143.2 427.1 L143.7 427.0 L144.2 426.9 L144.7 426.9 L145.2 426.8 L145.7 426.7 L146.1 426.7 L146.6 426.6 L147.1 426.5 L147.6 426.5 L148.1 426.4 L148.6 426.3 L149.1 426.3 L149.6 426.2 L150.0 426.1 L150.5 426.0 L151.0 426.0 L151.5 425.9 L152.0 425.8 L152.5 425.7 L153.0 425.6 L153.5 425.5 L154.0 425.4 L154.4 425.3 L154.9 425.2 L155.4 425.1 L155.9 425.0 L156.4 424.9 L156.9 424.8 L157.4 424.7 L157.9 424.6 L158.4 424.5 L158.8 424.4 L159.3 424.3 L159.8 424.2 L160.3 424.0 L160.8 423.9 L161.3 423.8 L161.8 423.6 L162.3 423.5 L162.7 423.4 L163.2 423.2 L163.7 423.1 L164.2 422.9 L164.7 422.7 L165.2 422.6 L165.7 422.4 L166.2 422.2 L166.7 422.1 L167.1 421.9 L167.6 421.7 L168.1 421.5 L168.6 421.3 L169.1 421.1 L169.6 420.9 L170.1 420.7 L170.6 420.4 L171.1 420.2 L171.5 420.0 L172.0 419.7 L172.5 419.5 L173.0 419.2 L173.5 418.9 L174.0 418.6 L174.5 418.3 L175.0 418.0 L175.4 417.7 L175.9 417.4 L176.4 417.0 L176.9 416.7 L177.4 416.3 L177.9 415.9 L178.4 415.5 L178.9 415.1 L179.4 414.7 L179.8 414.2 L180.3 413.8 L180.8 413.3 L181.3 412.8 L181.8 412.3 L182.3 411.7 L182.8 411.2 L183.3 410.6 L183.8 410.0 L184.2 409.3 L184.7 408.7 L185.2 408.0 L185.7 407.4 L186.2 406.7 L186.7 405.9 L187.2 405.2 L187.7 404.5 L188.1 403.7 L188.6 402.9 L189.1 402.2 L189.6 401.4 L190.1 400.6 L190.6 399.8 L191.1 399.1 L191.6 398.3 L192.1 397.5 L192.5 396.7 L193.0 395.8 L193.5 395.0 L194.0 394.1 L194.5 393.2 L195.0 392.2 L195.5 391.2 L196.0 390.1 L196.5 389.0 L196.9 387.7 L197.4 386.4 L197.9 385.1 L198.4 383.6 L198.9 382.1 L199.4 380.5 L199.9 378.8 L200.4 376.9 L200.8 375.0 L201.3 373.0 L201.8 370.9 L202.3 368.7 L202.8 366.4 L203.3 364.1 L203.8 361.6 L204.3 359.1 L204.8 356.6 L205.2 354.0 L205.7 351.4 L206.2 348.9 L206.7 346.4 L207.2 344.0 L207.7 341.8 L208.2 339.8 L208.7 338.0 L209.2 336.6 L209.6 335.6 L210.1 335.0 L210.6 335.0 L211.1 335.5 L211.6 336.6 L212.1 338.3 L212.6 340.6 L213.1 343.4 L213.5 346.8 L214.0 350.5 L214.5 354.7 L215.0 359.0 L215.5 363.6 L216.0 368.2 L216.5 372.8 L217.0 377.3 L217.5 381.7 L217.9 385.8 L218.4 389.6 L218.9 393.2 L219.4 396.5 L219.9 399.4 L220.4 401.9 L220.9 404.1 L221.4 406.0 L221.9 407.5 L222.3 408.6 L222.8 409.4 L223.3 409.9 L223.8 410.0 L224.3 409.7 L224.8 409.1 L225.3 408.2 L225.8 406.9 L226.2 405.2 L226.7 403.2 L227.2 400.9 L227.7 398.1 L228.2 395.1 L228.7 391.7 L229.2 388.0 L229.7 384.0 L230.2 379.8 L230.6 375.4 L231.1 370.8 L231.6 366.2 L232.1 361.6 L232.6 357.1 L233.1 352.8 L233.6 348.9 L234.1 345.3 L234.6 342.1 L235.0 339.5 L235.5 337.5 L236.0 336.1 L236.5 335.2 L237.0 335.0 L237.5 335.2 L238.0 336.0 L238.5 337.2 L238.9 338.7 L239.4 340.6 L239.9 342.7 L240.4 345.0 L240.9 347.4 L241.4 350.0 L241.9 352.5 L242.4 355.1 L242.9 357.7 L243.3 360.2 L243.8 362.7 L244.3 365.1 L244.8 367.4 L245.3 369.7 L245.8 371.8 L246.3 373.9 L246.8 375.9 L247.3 377.7 L247.7 379.5 L248.2 381.2 L248.7 382.8 L249.2 384.3 L249.7 385.7 L250.2 387.0 L250.7 388.3 L251.2 389.5 L251.6 390.6 L252.1 391.6 L252.6 392.6 L253.1 393.6 L253.6 394.5 L254.1 395.4 L254.6 396.2 L255.1 397.0 L255.6 397.8 L256.0 398.6 L256.5 399.4 L257.0 400.2 L257.5 401.0 L258.0 401.7 L258.5 402.5 L259.0 403.3 L259.5 404.0 L260.0 404.8 L260.4 405.5 L260.9 406.2 L261.4 407.0 L261.9 407.7 L262.4 408.3 L262.9 409.0 L263.4 409.6 L263.9 410.2 L264.3 410.8 L264.8 411.4 L265.3 412.0 L265.8 412.5 L266.3 413.0 L266.8 413.5 L267.3 414.0 L267.8 414.4 L268.3 414.9 L268.7 415.3 L269.2 415.7 L269.7 416.1 L270.2 416.5 L270.7 416.8 L271.2 417.2 L271.7 417.5 L272.2 417.8 L272.7 418.2 L273.1 418.5 L273.6 418.7 L274.1 419.0 L274.6 419.3 L275.1 419.6 L275.6 419.8 L276.1 420.1 L276.6 420.3 L277.0 420.5 L277.5 420.8 L278.0 421.0 L278.5 421.2 L279.0 421.4 L279.5 421.6 L280.0 421.8 L280.5 422.0 L281.0 422.1 L281.4 422.3 L281.9 422.5 L282.4 422.7 L282.9 422.8 L283.4 423.0 L283.9 423.1 L284.4 423.3 L284.9 423.4 L285.4 423.6 L285.8 423.7 L286.3 423.8 L286.8 424.0 L287.3 424.1 L287.8 424.2 L288.3 424.3 L288.8 424.4 L289.3 424.6 L289.7 424.7 L290.2 424.8 L290.7 424.9 L291.2 425.0 L291.7 425.1 L292.2 425.2 L292.7 425.3 L293.2 425.4 L293.7 425.5 L294.1 425.6 L294.6 425.7 L295.1 425.7 L295.6 425.8 L296.1 425.9 L296.6 426.0 L297.1 426.1 L297.6 426.1 L298.1 426.2 L298.5 426.3 L299.0 426.4 L299.5 426.4 L300.0 426.5 L300.5 426.6 L301.0 426.6 L301.5 426.7 L302.0 426.8 L302.4 426.8 L302.9 426.9 L303.4 427.0 L303.9 427.0 L304.4 427.1 L304.9 427.1 L305.4 427.2 L305.9 427.3 L306.4 427.3 L306.8 427.4 L307.3 427.4 L307.8 427.5 L308.3 427.5 L308.8 427.6 L309.3 427.6 L309.8 427.7 L310.3 427.7 L310.8 427.8 L311.2 427.8 L311.7 427.8 L312.2 427.9 L312.7 427.9 L313.2 428.0 L313.7 428.0 L314.2 428.1 L314.7 428.1 L315.1 428.1 L315.6 428.2 L316.1 428.2 L316.6 428.2 L317.1 428.3 L317.6 428.3 L318.1 428.4 L318.6 428.4 L319.1 428.4 L319.5 428.5 L320.0 428.5 L320.5 428.5 L321.0 428.6 L321.5 428.6" stroke="#ff0000" stroke-width="1.65"/>
</g>
<g fill="none" stroke-linejoin="round">
<path d="M126.6 538.6 L127.1 538.5 L127.6 538.5 L128.1 538.5 L128.6 538.4 L129.0 538.4 L129.5 538.4 L130.0 538.3 L130.5 538.3 L131.0 538.3 L131.5 538.3 L132.0 538.2 L132.5 538.2 L133.0 538.2 L133.4 538.1 L133.9 538.1 L134.4 538.0 L134.9 538.0 L135.4 538.0 L135.9 537.9 L136.4 537.9 L136.9 537.9 L137.3 537.8 L137.8 537.8 L138.3 537.7 L138.8 537.7 L139.3 537.7 L139.8 537.6 L140.3 537.6 L140.8 537.5 L141.3 537.5 L141.7 537.4 L142.2 537.4 L142.7 537.4 L143.2 537.3 L143.7 537.3 L144.2 537.2 L144.7 537.2 L145.2 537.1 L145.7 537.1 L146.1 537.0 L146.6 536.9 L147.1 536.9 L147.6 536.8 L148.1 536.8 L148.6 536.7 L149.1 536.7 L149.6 536.6 L150.0 536.5 L150.5 536.5 L151.0 536.4 L151.5 536.4 L152.0 536.3 L152.5 536.2 L153.0 536.1 L153.5 536.1 L154.0 536.0 L154.4 535.9 L154.9 535.9 L155.4 535.8 L155.9 535.7 L156.4 535.6 L156.9 535.5 L157.4 535.5 L157.9 535.4 L158.4 535.3 L158.8 535.2 L159.3 535.1 L159.8 535.0 L160.3 534.9 L160.8 534.8 L161.3 534.7 L161.8 534.6 L162.3 534.5 L162.7 534.4 L163.2 534.3 L163.7 534.2 L164.2 534.1 L164.7 534.0 L165.2 533.9 L165.7 533.8 L166.2 533.6 L166.7 533.5 L167.1 533.4 L167.6 533.3 L168.1 533.1 L168.6 533.0 L169.1 532.9 L169.6 532.7 L170.1 532.6 L170.6 532.4 L171.1 532.3 L171.5 532.1 L172.0 531.9 L172.5 531.8 L173.0 531.6 L173.5 531.4 L174.0 531.3 L174.5 531.1 L175.0 530.9 L175.4 530.7 L175.9 530.5 L176.4 530.3 L176.9 530.1 L177.4 529.9 L177.9 529.6 L178.4 529.4 L178.9 529.2 L179.4 528.9 L179.8 528.7 L180.3 528.4 L180.8 528.2 L181.3 527.9 L181.8 527.6 L182.3 527.3 L182.8 527.0 L183.3 526.7 L183.8 526.4 L184.2 526.1 L184.7 525.8 L185.2 525.4 L185.7 525.1 L186.2 524.7 L186.7 524.3 L187.2 524.0 L187.7 523.6 L188.1 523.1 L188.6 522.7 L189.1 522.3 L189.6 521.8 L190.1 521.4 L190.6 520.9 L191.1 520.4 L191.6 519.8 L192.1 519.3 L192.5 518.8 L193.0 518.2 L193.5 517.6 L194.0 517.0 L194.5 516.3 L195.0 515.7 L195.5 515.0 L196.0 514.3 L196.5 513.5 L196.9 512.8 L197.4 512.0 L197.9 511.2 L198.4 510.3 L198.9 509.4 L199.4 508.5 L199.9 507.6 L200.4 506.6 L200.8 505.6 L201.3 504.5 L201.8 503.4 L202.3 502.3 L202.8 501.1 L203.3 499.9 L203.8 498.6 L204.3 497.3 L204.8 495.9 L205.2 494.5 L205.7 493.1 L206.2 491.6 L206.7 490.0 L207.2 488.4 L207.7 486.7 L208.2 485.0 L208.7 483.2 L209.2 481.4 L209.6 479.6 L210.1 477.6 L210.6 475.7 L211.1 473.6 L211.6 471.6 L212.1 469.5 L212.6 467.4 L213.1 465.2 L213.5 463.0 L214.0 460.8 L214.5 458.6 L215.0 456.4 L215.5 454.2 L216.0 452.0 L216.5 449.9 L217.0 447.8 L217.5 445.8 L217.9 443.8 L218.4 441.9 L218.9 440.2 L219.4 438.5 L219.9 437.0 L220.4 435.7 L220.9 434.5 L221.4 433.5 L221.9 432.6 L222.3 432.0 L222.8 431.6 L223.3 431.3 L223.8 431.3 L224.3 431.5 L224.8 431.9 L225.3 432.5 L225.8 433.3 L226.2 434.3 L226.7 435.5 L227.2 436.8 L227.7 438.3 L228.2 439.9 L228.7 441.6 L229.2 443.5 L229.7 445.4 L230.2 447.5 L230.6 449.5 L231.1 451.7 L231.6 453.9 L232.1 456.0 L232.6 458.3 L233.1 460.5 L233.6 462.7 L234.1 464.9 L234.6 467.0 L235.0 469.2 L235.5 471.3 L236.0 473.3 L236.5 475.3 L237.0 477.3 L237.5 479.3 L238.0 481.1 L238.5 483.0 L238.9 484.7 L239.4 486.5 L239.9 488.1 L240.4 489.8 L240.9 491.3 L241.4 492.8 L241.9 494.3 L242.4 495.7 L242.9 497.1 L243.3 498.4 L243.8 499.7 L244.3 500.9 L244.8 502.1 L245.3 503.2 L245.8 504.3 L246.3 505.4 L246.8 506.4 L247.3 507.4 L247.7 508.4 L248.2 509.3 L248.7 510.2 L249.2 511.0 L249.7 511.9 L250.2 512.6 L250.7 513.4 L251.2 514.2 L251.6 514.9 L252.1 515.6 L252.6 516.2 L253.1 516.9 L253.6 517.5 L254.1 518.1 L254.6 518.7 L255.1 519.2 L255.6 519.8 L256.0 520.3 L256.5 520.8 L257.0 521.3 L257.5 521.8 L258.0 522.2 L258.5 522.7 L259.0 523.1 L259.5 523.5 L260.0 523.9 L260.4 524.3 L260.9 524.7 L261.4 525.0 L261.9 525.4 L262.4 525.7 L262.9 526.1 L263.4 526.4 L263.9 526.7 L264.3 527.0 L264.8 527.3 L265.3 527.6 L265.8 527.9 L266.3 528.1 L266.8 528.4 L267.3 528.7 L267.8 528.9 L268.3 529.1 L268.7 529.4 L269.2 529.6 L269.7 529.8 L270.2 530.0 L270.7 530.3 L271.2 530.5 L271.7 530.7 L272.2 530.9 L272.7 531.0 L273.1 531.2 L273.6 531.4 L274.1 531.6 L274.6 531.8 L275.1 531.9 L275.6 532.1 L276.1 532.2 L276.6 532.4 L277.0 532.5 L277.5 532.7 L278.0 532.8 L278.5 533.0 L279.0 533.1 L279.5 533.2 L280.0 533.4 L280.5 533.5 L281.0 533.6 L281.4 533.8 L281.9 533.9 L282.4 534.0 L282.9 534.1 L283.4 534.2 L283.9 534.3 L284.4 534.4 L284.9 534.5 L285.4 534.6 L285.8 534.7 L286.3 534.8 L286.8 534.9 L287.3 535.0 L287.8 535.1 L288.3 535.2 L288.8 535.3 L289.3 535.4 L289.7 535.5 L290.2 535.5 L290.7 535.6 L291.2 535.7 L291.7 535.8 L292.2 535.8 L292.7 535.9 L293.2 536.0 L293.7 536.1 L294.1 536.1 L294.6 536.2 L295.1 536.3 L295.6 536.3 L296.1 536.4 L296.6 536.5 L297.1 536.5 L297.6 536.6 L298.1 536.7 L298.5 536.7 L299.0 536.8 L299.5 536.8 L300.0 536.9 L300.5 536.9 L301.0 537.0 L301.5 537.0 L302.0 537.1 L302.4 537.1 L302.9 537.2 L303.4 537.2 L303.9 537.3 L304.4 537.3 L304.9 537.4 L305.4 537.4 L305.9 537.5 L306.4 537.5 L306.8 537.6 L307.3 537.6 L307.8 537.7 L308.3 537.7 L308.8 537.7 L309.3 537.8 L309.8 537.8 L310.3 537.9 L310.8 537.9 L311.2 537.9 L311.7 538.0 L312.2 538.0 L312.7 538.0 L313.2 538.1 L313.7 538.1 L314.2 538.1 L314.7 538.2 L315.1 538.2 L315.6 538.2 L316.1 538.3 L316.6 538.3 L317.1 538.3 L317.6 538.4 L318.1 538.4 L318.6 538.4 L319.1 538.5 L319.5 538.5 L320.0 538.5 L320.5 538.5 L321.0 538.6 L321.5 538.6" stroke="#7c7c7c" stroke-width="1.3"/>
<path d="M126.6 538.4 L127.1 538.4 L127.6 538.3 L128.1 538.3 L128.6 538.3 L129.0 538.2 L129.5 538.2 L130.0 538.2 L130.5 538.1 L131.0 538.1 L131.5 538.1 L132.0 538.0 L132.5 538.0 L133.0 538.0 L133.4 537.9 L133.9 537.9 L134.4 537.8 L134.9 537.8 L135.4 537.8 L135.9 537.7 L136.4 537.7 L136.9 537.6 L137.3 537.6 L137.8 537.5 L138.3 537.5 L138.8 537.5 L139.3 537.4 L139.8 537.4 L140.3 537.3 L140.8 537.3 L141.3 537.2 L141.7 537.2 L142.2 537.1 L142.7 537.1 L143.2 537.0 L143.7 536.9 L144.2 536.9 L144.7 536.8 L145.2 536.8 L145.7 536.7 L146.1 536.6 L146.6 536.6 L147.1 536.5 L147.6 536.5 L148.1 536.4 L148.6 536.3 L149.1 536.2 L149.6 536.2 L150.0 536.1 L150.5 536.0 L151.0 536.0 L151.5 535.9 L152.0 535.8 L152.5 535.7 L153.0 535.6 L153.5 535.5 L154.0 535.5 L154.4 535.4 L154.9 535.3 L155.4 535.2 L155.9 535.1 L156.4 535.0 L156.9 534.9 L157.4 534.8 L157.9 534.7 L158.4 534.6 L158.8 534.5 L159.3 534.4 L159.8 534.2 L160.3 534.1 L160.8 534.0 L161.3 533.9 L161.8 533.8 L162.3 533.6 L162.7 533.5 L163.2 533.4 L163.7 533.2 L164.2 533.1 L164.7 532.9 L165.2 532.8 L165.7 532.6 L166.2 532.5 L166.7 532.3 L167.1 532.1 L167.6 531.9 L168.1 531.8 L168.6 531.6 L169.1 531.4 L169.6 531.2 L170.1 531.0 L170.6 530.8 L171.1 530.5 L171.5 530.3 L172.0 530.1 L172.5 529.8 L173.0 529.6 L173.5 529.3 L174.0 529.1 L174.5 528.8 L175.0 528.5 L175.4 528.2 L175.9 527.9 L176.4 527.6 L176.9 527.3 L177.4 526.9 L177.9 526.6 L178.4 526.2 L178.9 525.9 L179.4 525.5 L179.8 525.1 L180.3 524.6 L180.8 524.2 L181.3 523.7 L181.8 523.2 L182.3 522.7 L182.8 522.2 L183.3 521.7 L183.8 521.1 L184.2 520.5 L184.7 519.9 L185.2 519.3 L185.7 518.6 L186.2 517.9 L186.7 517.1 L187.2 516.4 L187.7 515.6 L188.1 514.7 L188.6 513.8 L189.1 512.9 L189.6 512.0 L190.1 511.0 L190.6 509.9 L191.1 508.8 L191.6 507.7 L192.1 506.6 L192.5 505.3 L193.0 504.1 L193.5 502.8 L194.0 501.5 L194.5 500.2 L195.0 498.8 L195.5 497.5 L196.0 496.1 L196.5 494.8 L196.9 493.4 L197.4 492.1 L197.9 490.8 L198.4 489.6 L198.9 488.4 L199.4 487.2 L199.9 486.0 L200.4 484.9 L200.8 483.8 L201.3 482.7 L201.8 481.6 L202.3 480.5 L202.8 479.4 L203.3 478.3 L203.8 477.2 L204.3 476.1 L204.8 475.0 L205.2 473.9 L205.7 472.9 L206.2 471.9 L206.7 471.0 L207.2 470.2 L207.7 469.6 L208.2 469.1 L208.7 468.9 L209.2 468.9 L209.6 469.1 L210.1 469.6 L210.6 470.2 L211.1 471.2 L211.6 472.3 L212.1 473.6 L212.6 475.0 L213.1 476.5 L213.5 478.1 L214.0 479.7 L214.5 481.3 L215.0 482.9 L215.5 484.3 L216.0 485.7 L216.5 487.0 L217.0 488.2 L217.5 489.2 L217.9 490.2 L218.4 491.0 L218.9 491.7 L219.4 492.4 L219.9 492.9 L220.4 493.3 L220.9 493.7 L221.4 494.0 L221.9 494.2 L222.3 494.4 L222.8 494.5 L223.3 494.5 L223.8 494.5 L224.3 494.5 L224.8 494.4 L225.3 494.2 L225.8 494.0 L226.2 493.7 L226.7 493.4 L227.2 493.0 L227.7 492.5 L228.2 491.8 L228.7 491.1 L229.2 490.3 L229.7 489.4 L230.2 488.3 L230.6 487.2 L231.1 485.9 L231.6 484.6 L232.1 483.1 L232.6 481.6 L233.1 480.0 L233.6 478.4 L234.1 476.8 L234.6 475.2 L235.0 473.8 L235.5 472.5 L236.0 471.3 L236.5 470.4 L237.0 469.6 L237.5 469.1 L238.0 468.9 L238.5 468.9 L238.9 469.1 L239.4 469.5 L239.9 470.1 L240.4 470.8 L240.9 471.7 L241.4 472.7 L241.9 473.7 L242.4 474.8 L242.9 475.9 L243.3 477.0 L243.8 478.1 L244.3 479.3 L244.8 480.4 L245.3 481.4 L245.8 482.5 L246.3 483.6 L246.8 484.7 L247.3 485.8 L247.7 487.0 L248.2 488.2 L248.7 489.4 L249.2 490.6 L249.7 491.9 L250.2 493.2 L250.7 494.6 L251.2 495.9 L251.6 497.3 L252.1 498.6 L252.6 500.0 L253.1 501.3 L253.6 502.6 L254.1 503.9 L254.6 505.2 L255.1 506.4 L255.6 507.5 L256.0 508.7 L256.5 509.8 L257.0 510.8 L257.5 511.8 L258.0 512.8 L258.5 513.7 L259.0 514.6 L259.5 515.4 L260.0 516.3 L260.4 517.0 L260.9 517.8 L261.4 518.5 L261.9 519.2 L262.4 519.8 L262.9 520.4 L263.4 521.0 L263.9 521.6 L264.3 522.1 L264.8 522.7 L265.3 523.2 L265.8 523.7 L266.3 524.1 L266.8 524.6 L267.3 525.0 L267.8 525.4 L268.3 525.8 L268.7 526.2 L269.2 526.5 L269.7 526.9 L270.2 527.2 L270.7 527.6 L271.2 527.9 L271.7 528.2 L272.2 528.5 L272.7 528.8 L273.1 529.0 L273.6 529.3 L274.1 529.6 L274.6 529.8 L275.1 530.1 L275.6 530.3 L276.1 530.5 L276.6 530.7 L277.0 530.9 L277.5 531.1 L278.0 531.3 L278.5 531.5 L279.0 531.7 L279.5 531.9 L280.0 532.1 L280.5 532.3 L281.0 532.4 L281.4 532.6 L281.9 532.7 L282.4 532.9 L282.9 533.1 L283.4 533.2 L283.9 533.3 L284.4 533.5 L284.9 533.6 L285.4 533.7 L285.8 533.9 L286.3 534.0 L286.8 534.1 L287.3 534.2 L287.8 534.3 L288.3 534.5 L288.8 534.6 L289.3 534.7 L289.7 534.8 L290.2 534.9 L290.7 535.0 L291.2 535.1 L291.7 535.2 L292.2 535.3 L292.7 535.4 L293.2 535.4 L293.7 535.5 L294.1 535.6 L294.6 535.7 L295.1 535.8 L295.6 535.9 L296.1 535.9 L296.6 536.0 L297.1 536.1 L297.6 536.2 L298.1 536.2 L298.5 536.3 L299.0 536.4 L299.5 536.4 L300.0 536.5 L300.5 536.6 L301.0 536.6 L301.5 536.7 L302.0 536.8 L302.4 536.8 L302.9 536.9 L303.4 536.9 L303.9 537.0 L304.4 537.0 L304.9 537.1 L305.4 537.2 L305.9 537.2 L306.4 537.3 L306.8 537.3 L307.3 537.4 L307.8 537.4 L308.3 537.4 L308.8 537.5 L309.3 537.5 L309.8 537.6 L310.3 537.6 L310.8 537.7 L311.2 537.7 L311.7 537.8 L312.2 537.8 L312.7 537.8 L313.2 537.9 L313.7 537.9 L314.2 538.0 L314.7 538.0 L315.1 538.0 L315.6 538.1 L316.1 538.1 L316.6 538.1 L317.1 538.2 L317.6 538.2 L318.1 538.2 L318.6 538.3 L319.1 538.3 L319.5 538.3 L320.0 538.4 L320.5 538.4 L321.0 538.4 L321.5 538.5" stroke="#0000dc" stroke-width="1.65"/>
<path d="M126.6 538.6 L127.1 538.5 L127.6 538.5 L128.1 538.5 L128.6 538.4 L129.0 538.4 L129.5 538.4 L130.0 538.3 L130.5 538.3 L131.0 538.3 L131.5 538.3 L132.0 538.2 L132.5 538.2 L133.0 538.2 L133.4 538.1 L133.9 538.1 L134.4 538.0 L134.9 538.0 L135.4 538.0 L135.9 537.9 L136.4 537.9 L136.9 537.9 L137.3 537.8 L137.8 537.8 L138.3 537.7 L138.8 537.7 L139.3 537.7 L139.8 537.6 L140.3 537.6 L140.8 537.5 L141.3 537.5 L141.7 537.4 L142.2 537.4 L142.7 537.4 L143.2 537.3 L143.7 537.3 L144.2 537.2 L144.7 537.2 L145.2 537.1 L145.7 537.1 L146.1 537.0 L146.6 536.9 L147.1 536.9 L147.6 536.8 L148.1 536.8 L148.6 536.7 L149.1 536.7 L149.6 536.6 L150.0 536.5 L150.5 536.5 L151.0 536.4 L151.5 536.4 L152.0 536.3 L152.5 536.2 L153.0 536.1 L153.5 536.1 L154.0 536.0 L154.4 535.9 L154.9 535.9 L155.4 535.8 L155.9 535.7 L156.4 535.6 L156.9 535.5 L157.4 535.5 L157.9 535.4 L158.4 535.3 L158.8 535.2 L159.3 535.1 L159.8 535.0 L160.3 534.9 L160.8 534.8 L161.3 534.7 L161.8 534.6 L162.3 534.5 L162.7 534.4 L163.2 534.3 L163.7 534.2 L164.2 534.1 L164.7 534.0 L165.2 533.9 L165.7 533.8 L166.2 533.6 L166.7 533.5 L167.1 533.4 L167.6 533.3 L168.1 533.1 L168.6 533.0 L169.1 532.9 L169.6 532.7 L170.1 532.6 L170.6 532.4 L171.1 532.3 L171.5 532.1 L172.0 531.9 L172.5 531.8 L173.0 531.6 L173.5 531.4 L174.0 531.3 L174.5 531.1 L175.0 530.9 L175.4 530.7 L175.9 530.5 L176.4 530.3 L176.9 530.1 L177.4 529.9 L177.9 529.6 L178.4 529.4 L178.9 529.2 L179.4 528.9 L179.8 528.7 L180.3 528.4 L180.8 528.2 L181.3 527.9 L181.8 527.6 L182.3 527.3 L182.8 527.0 L183.3 526.7 L183.8 526.4 L184.2 526.1 L184.7 525.8 L185.2 525.4 L185.7 525.1 L186.2 524.7 L186.7 524.3 L187.2 524.0 L187.7 523.6 L188.1 523.1 L188.6 522.7 L189.1 522.3 L189.6 521.8 L190.1 521.4 L190.6 520.9 L191.1 520.4 L191.6 519.8 L192.1 519.3 L192.5 518.8 L193.0 518.2 L193.5 517.6 L194.0 517.0 L194.5 516.3 L195.0 515.7 L195.5 515.0 L196.0 514.3 L196.5 513.5 L196.9 512.8 L197.4 512.0 L197.9 511.2 L198.4 510.3 L198.9 509.4 L199.4 508.5 L199.9 507.6 L200.4 506.6 L200.8 505.6 L201.3 504.5 L201.8 503.4 L202.3 502.3 L202.8 501.1 L203.3 499.9 L203.8 498.6 L204.3 497.3 L204.8 495.9 L205.2 494.5 L205.7 493.1 L206.2 491.6 L206.7 490.0 L207.2 488.4 L207.7 486.7 L208.2 485.0 L208.7 483.2 L209.2 481.4 L209.6 479.6 L210.1 477.6 L210.6 475.7 L211.1 473.6 L211.6 471.6 L212.1 469.5 L212.6 467.4 L213.1 465.2 L213.5 463.0 L214.0 460.8 L214.5 458.6 L215.0 456.4 L215.5 454.2 L216.0 452.0 L216.5 449.9 L217.0 447.8 L217.5 445.8 L217.9 443.8 L218.4 441.9 L218.9 440.2 L219.4 438.5 L219.9 437.0 L220.4 435.7 L220.9 434.5 L221.4 433.5 L221.9 432.6 L222.3 432.0 L222.8 431.6 L223.3 431.3 L223.8 431.3 L224.3 431.5 L224.8 431.9 L225.3 432.5 L225.8 433.3 L226.2 434.3 L226.7 435.5 L227.2 436.8 L227.7 438.3 L228.2 439.9 L228.7 441.6 L229.2 443.5 L229.7 445.4 L230.2 447.5 L230.6 449.5 L231.1 451.7 L231.6 453.9 L232.1 456.0 L232.6 458.3 L233.1 460.5 L233.6 462.7 L234.1 464.9 L234.6 467.0 L235.0 469.2 L235.5 471.3 L236.0 473.3 L236.5 475.3 L237.0 477.3 L237.5 479.3 L238.0 481.1 L238.5 483.0 L238.9 484.7 L239.4 486.5 L239.9 488.1 L240.4 489.8 L240.9 491.3 L241.4 492.8 L241.9 494.3 L242.4 495.7 L242.9 497.1 L243.3 498.4 L243.8 499.7 L244.3 500.9 L244.8 502.1 L245.3 503.2 L245.8 504.3 L246.3 505.4 L246.8 506.4 L247.3 507.4 L247.7 508.4 L248.2 509.3 L248.7 510.2 L249.2 511.0 L249.7 511.9 L250.2 512.6 L250.7 513.4 L251.2 514.2 L251.6 514.9 L252.1 515.6 L252.6 516.2 L253.1 516.9 L253.6 517.5 L254.1 518.1 L254.6 518.7 L255.1 519.2 L255.6 519.8 L256.0 520.3 L256.5 520.8 L257.0 521.3 L257.5 521.8 L258.0 522.2 L258.5 522.7 L259.0 523.1 L259.5 523.5 L260.0 523.9 L260.4 524.3 L260.9 524.7 L261.4 525.0 L261.9 525.4 L262.4 525.7 L262.9 526.1 L263.4 526.4 L263.9 526.7 L264.3 527.0 L264.8 527.3 L265.3 527.6 L265.8 527.9 L266.3 528.1 L266.8 528.4 L267.3 528.7 L267.8 528.9 L268.3 529.1 L268.7 529.4 L269.2 529.6 L269.7 529.8 L270.2 530.0 L270.7 530.3 L271.2 530.5 L271.7 530.7 L272.2 530.9 L272.7 531.0 L273.1 531.2 L273.6 531.4 L274.1 531.6 L274.6 531.8 L275.1 531.9 L275.6 532.1 L276.1 532.2 L276.6 532.4 L277.0 532.5 L277.5 532.7 L278.0 532.8 L278.5 533.0 L279.0 533.1 L279.5 533.2 L280.0 533.4 L280.5 533.5 L281.0 533.6 L281.4 533.8 L281.9 533.9 L282.4 534.0 L282.9 534.1 L283.4 534.2 L283.9 534.3 L284.4 534.4 L284.9 534.5 L285.4 534.6 L285.8 534.7 L286.3 534.8 L286.8 534.9 L287.3 535.0 L287.8 535.1 L288.3 535.2 L288.8 535.3 L289.3 535.4 L289.7 535.5 L290.2 535.5 L290.7 535.6 L291.2 535.7 L291.7 535.8 L292.2 535.8 L292.7 535.9 L293.2 536.0 L293.7 536.1 L294.1 536.1 L294.6 536.2 L295.1 536.3 L295.6 536.3 L296.1 536.4 L296.6 536.5 L297.1 536.5 L297.6 536.6 L298.1 536.7 L298.5 536.7 L299.0 536.8 L299.5 536.8 L300.0 536.9 L300.5 536.9 L301.0 537.0 L301.5 537.0 L302.0 537.1 L302.4 537.1 L302.9 537.2 L303.4 537.2 L303.9 537.3 L304.4 537.3 L304.9 537.4 L305.4 537.4 L305.9 537.5 L306.4 537.5 L306.8 537.6 L307.3 537.6 L307.8 537.7 L308.3 537.7 L308.8 537.7 L309.3 537.8 L309.8 537.8 L310.3 537.9 L310.8 537.9 L311.2 537.9 L311.7 538.0 L312.2 538.0 L312.7 538.0 L313.2 538.1 L313.7 538.1 L314.2 538.1 L314.7 538.2 L315.1 538.2 L315.6 538.2 L316.1 538.3 L316.6 538.3 L317.1 538.3 L317.6 538.4 L318.1 538.4 L318.6 538.4 L319.1 538.5 L319.5 538.5 L320.0 538.5 L320.5 538.5 L321.0 538.6 L321.5 538.6" stroke="#262626" stroke-width="1.5" stroke-dasharray="1.05 1.15"/>
<path d="M126.6 538.4 L127.1 538.4 L127.6 538.3 L128.1 538.3 L128.6 538.3 L129.0 538.2 L129.5 538.2 L130.0 538.2 L130.5 538.1 L131.0 538.1 L131.5 538.1 L132.0 538.0 L132.5 538.0 L133.0 538.0 L133.4 537.9 L133.9 537.9 L134.4 537.8 L134.9 537.8 L135.4 537.8 L135.9 537.7 L136.4 537.7 L136.9 537.6 L137.3 537.6 L137.8 537.5 L138.3 537.5 L138.8 537.5 L139.3 537.4 L139.8 537.4 L140.3 537.3 L140.8 537.3 L141.3 537.2 L141.7 537.2 L142.2 537.1 L142.7 537.1 L143.2 537.0 L143.7 536.9 L144.2 536.9 L144.7 536.8 L145.2 536.8 L145.7 536.7 L146.1 536.6 L146.6 536.6 L147.1 536.5 L147.6 536.5 L148.1 536.4 L148.6 536.3 L149.1 536.2 L149.6 536.2 L150.0 536.1 L150.5 536.0 L151.0 536.0 L151.5 535.9 L152.0 535.8 L152.5 535.7 L153.0 535.6 L153.5 535.5 L154.0 535.5 L154.4 535.4 L154.9 535.3 L155.4 535.2 L155.9 535.1 L156.4 535.0 L156.9 534.9 L157.4 534.8 L157.9 534.7 L158.4 534.6 L158.8 534.5 L159.3 534.4 L159.8 534.2 L160.3 534.1 L160.8 534.0 L161.3 533.9 L161.8 533.8 L162.3 533.6 L162.7 533.5 L163.2 533.4 L163.7 533.2 L164.2 533.1 L164.7 532.9 L165.2 532.8 L165.7 532.6 L166.2 532.4 L166.7 532.3 L167.1 532.1 L167.6 531.9 L168.1 531.8 L168.6 531.6 L169.1 531.4 L169.6 531.2 L170.1 531.0 L170.6 530.8 L171.1 530.5 L171.5 530.3 L172.0 530.1 L172.5 529.8 L173.0 529.6 L173.5 529.3 L174.0 529.1 L174.5 528.8 L175.0 528.5 L175.4 528.2 L175.9 527.9 L176.4 527.6 L176.9 527.3 L177.4 526.9 L177.9 526.6 L178.4 526.2 L178.9 525.8 L179.4 525.4 L179.8 525.0 L180.3 524.6 L180.8 524.2 L181.3 523.7 L181.8 523.2 L182.3 522.7 L182.8 522.2 L183.3 521.7 L183.8 521.1 L184.2 520.5 L184.7 519.9 L185.2 519.3 L185.7 518.6 L186.2 518.0 L186.7 517.3 L187.2 516.5 L187.7 515.8 L188.1 515.0 L188.6 514.2 L189.1 513.3 L189.6 512.4 L190.1 511.5 L190.6 510.6 L191.1 509.6 L191.6 508.5 L192.1 507.5 L192.5 506.3 L193.0 505.2 L193.5 504.0 L194.0 502.7 L194.5 501.4 L195.0 500.0 L195.5 498.5 L196.0 497.0 L196.5 495.4 L196.9 493.8 L197.4 492.1 L197.9 490.3 L198.4 488.5 L198.9 486.7 L199.4 484.8 L199.9 483.0 L200.4 481.1 L200.8 479.3 L201.3 477.6 L201.8 475.9 L202.3 474.4 L202.8 473.1 L203.3 471.9 L203.8 470.9 L204.3 470.2 L204.8 469.8 L205.2 469.6 L205.7 469.7 L206.2 470.1 L206.7 470.7 L207.2 471.6 L207.7 472.6 L208.2 473.7 L208.7 475.0 L209.2 476.4 L209.6 477.7 L210.1 479.1 L210.6 480.4 L211.1 481.6 L211.6 482.8 L212.1 483.8 L212.6 484.7 L213.1 485.5 L213.5 486.2 L214.0 486.8 L214.5 487.3 L215.0 487.6 L215.5 487.9 L216.0 488.0 L216.5 488.1 L217.0 488.1 L217.5 488.0 L217.9 487.9 L218.4 487.8 L218.9 487.6 L219.4 487.4 L219.9 487.2 L220.4 487.0 L220.9 486.8 L221.4 486.6 L221.9 486.5 L222.3 486.4 L222.8 486.3 L223.3 486.3 L223.8 486.3 L224.3 486.3 L224.8 486.4 L225.3 486.5 L225.8 486.6 L226.2 486.8 L226.7 487.0 L227.2 487.2 L227.7 487.4 L228.2 487.6 L228.7 487.8 L229.2 487.9 L229.7 488.0 L230.2 488.1 L230.6 488.1 L231.1 488.0 L231.6 487.9 L232.1 487.7 L232.6 487.3 L233.1 486.9 L233.6 486.3 L234.1 485.7 L234.6 484.9 L235.0 484.0 L235.5 482.9 L236.0 481.8 L236.5 480.6 L237.0 479.3 L237.5 477.9 L238.0 476.6 L238.5 475.2 L238.9 473.9 L239.4 472.8 L239.9 471.7 L240.4 470.8 L240.9 470.2 L241.4 469.8 L241.9 469.6 L242.4 469.7 L242.9 470.1 L243.3 470.8 L243.8 471.7 L244.3 472.9 L244.8 474.2 L245.3 475.7 L245.8 477.3 L246.3 479.0 L246.8 480.8 L247.3 482.7 L247.7 484.5 L248.2 486.4 L248.7 488.2 L249.2 490.0 L249.7 491.8 L250.2 493.5 L250.7 495.1 L251.2 496.7 L251.6 498.3 L252.1 499.7 L252.6 501.1 L253.1 502.5 L253.6 503.8 L254.1 505.0 L254.6 506.2 L255.1 507.3 L255.6 508.4 L256.0 509.4 L256.5 510.4 L257.0 511.4 L257.5 512.3 L258.0 513.2 L258.5 514.0 L259.0 514.8 L259.5 515.6 L260.0 516.4 L260.4 517.1 L260.9 517.9 L261.4 518.5 L261.9 519.2 L262.4 519.8 L262.9 520.4 L263.4 521.0 L263.9 521.6 L264.3 522.1 L264.8 522.7 L265.3 523.2 L265.8 523.6 L266.3 524.1 L266.8 524.5 L267.3 525.0 L267.8 525.4 L268.3 525.8 L268.7 526.2 L269.2 526.5 L269.7 526.9 L270.2 527.2 L270.7 527.5 L271.2 527.9 L271.7 528.2 L272.2 528.5 L272.7 528.8 L273.1 529.0 L273.6 529.3 L274.1 529.6 L274.6 529.8 L275.1 530.0 L275.6 530.3 L276.1 530.5 L276.6 530.7 L277.0 530.9 L277.5 531.1 L278.0 531.3 L278.5 531.5 L279.0 531.7 L279.5 531.9 L280.0 532.1 L280.5 532.3 L281.0 532.4 L281.4 532.6 L281.9 532.7 L282.4 532.9 L282.9 533.0 L283.4 533.2 L283.9 533.3 L284.4 533.5 L284.9 533.6 L285.4 533.7 L285.8 533.9 L286.3 534.0 L286.8 534.1 L287.3 534.2 L287.8 534.3 L288.3 534.5 L288.8 534.6 L289.3 534.7 L289.7 534.8 L290.2 534.9 L290.7 535.0 L291.2 535.1 L291.7 535.2 L292.2 535.3 L292.7 535.4 L293.2 535.4 L293.7 535.5 L294.1 535.6 L294.6 535.7 L295.1 535.8 L295.6 535.9 L296.1 535.9 L296.6 536.0 L297.1 536.1 L297.6 536.2 L298.1 536.2 L298.5 536.3 L299.0 536.4 L299.5 536.4 L300.0 536.5 L300.5 536.6 L301.0 536.6 L301.5 536.7 L302.0 536.8 L302.4 536.8 L302.9 536.9 L303.4 536.9 L303.9 537.0 L304.4 537.0 L304.9 537.1 L305.4 537.2 L305.9 537.2 L306.4 537.3 L306.8 537.3 L307.3 537.4 L307.8 537.4 L308.3 537.4 L308.8 537.5 L309.3 537.5 L309.8 537.6 L310.3 537.6 L310.8 537.7 L311.2 537.7 L311.7 537.8 L312.2 537.8 L312.7 537.8 L313.2 537.9 L313.7 537.9 L314.2 538.0 L314.7 538.0 L315.1 538.0 L315.6 538.1 L316.1 538.1 L316.6 538.1 L317.1 538.2 L317.6 538.2 L318.1 538.2 L318.6 538.3 L319.1 538.3 L319.5 538.3 L320.0 538.4 L320.5 538.4 L321.0 538.4 L321.5 538.5" stroke="#ff0000" stroke-width="1.65"/>
</g>
<line x1="126.00" y1="77.7" x2="126.00" y2="196.5" stroke="#858585" stroke-width="1.55"/>
<line x1="323.10" y1="77.7" x2="323.10" y2="196.5" stroke="#858585" stroke-width="1.55"/>
<line x1="125.3" y1="78.2" x2="323.9" y2="78.2" stroke="#6a6a6a" stroke-width="1.2"/>
<line x1="121.0" y1="80.3" x2="125.6" y2="80.3" stroke="#1a1a1a" stroke-width="1.0"/>
<text transform="translate(118.7,85.5) scale(0.800,1)" font-size="15.6" text-anchor="end" stroke="#000" stroke-width="0.18">1.0</text>
<line x1="121.0" y1="103.6" x2="125.6" y2="103.6" stroke="#1a1a1a" stroke-width="1.0"/>
<text transform="translate(118.7,108.8) scale(0.800,1)" font-size="15.6" text-anchor="end" stroke="#000" stroke-width="0.18">0.8</text>
<line x1="121.0" y1="126.9" x2="125.6" y2="126.9" stroke="#1a1a1a" stroke-width="1.0"/>
<text transform="translate(118.7,132.1) scale(0.800,1)" font-size="15.6" text-anchor="end" stroke="#000" stroke-width="0.18">0.6</text>
<line x1="121.0" y1="150.2" x2="125.6" y2="150.2" stroke="#1a1a1a" stroke-width="1.0"/>
<text transform="translate(118.7,155.4) scale(0.800,1)" font-size="15.6" text-anchor="end" stroke="#000" stroke-width="0.18">0.4</text>
<line x1="121.0" y1="173.5" x2="125.6" y2="173.5" stroke="#1a1a1a" stroke-width="1.0"/>
<text transform="translate(118.7,178.7) scale(0.800,1)" font-size="15.6" text-anchor="end" stroke="#000" stroke-width="0.18">0.2</text>
<line x1="124.95" y1="195.1" x2="124.95" y2="313.7" stroke="#858585" stroke-width="1.55"/>
<line x1="322.10" y1="195.1" x2="322.10" y2="313.7" stroke="#858585" stroke-width="1.55"/>
<line x1="124.2" y1="195.75" x2="322.9" y2="195.45" stroke="#202020" stroke-width="1.4"/>
<line x1="120.0" y1="198.3" x2="124.5" y2="198.3" stroke="#1a1a1a" stroke-width="1.0"/>
<text transform="translate(118.2,203.5) scale(0.800,1)" font-size="15.6" text-anchor="end" stroke="#000" stroke-width="0.18">1.0</text>
<line x1="120.0" y1="221.6" x2="124.5" y2="221.6" stroke="#1a1a1a" stroke-width="1.0"/>
<text transform="translate(118.2,226.8) scale(0.800,1)" font-size="15.6" text-anchor="end" stroke="#000" stroke-width="0.18">0.8</text>
<line x1="120.0" y1="244.9" x2="124.5" y2="244.9" stroke="#1a1a1a" stroke-width="1.0"/>
<text transform="translate(118.2,250.1) scale(0.800,1)" font-size="15.6" text-anchor="end" stroke="#000" stroke-width="0.18">0.6</text>
<line x1="120.0" y1="268.1" x2="124.5" y2="268.1" stroke="#1a1a1a" stroke-width="1.0"/>
<text transform="translate(118.2,273.3) scale(0.800,1)" font-size="15.6" text-anchor="end" stroke="#000" stroke-width="0.18">0.4</text>
<line x1="120.0" y1="291.4" x2="124.5" y2="291.4" stroke="#1a1a1a" stroke-width="1.0"/>
<text transform="translate(118.2,296.6) scale(0.800,1)" font-size="15.6" text-anchor="end" stroke="#000" stroke-width="0.18">0.2</text>
<line x1="137.0" y1="195.6" x2="137.0" y2="201.8" stroke="#222" stroke-width="1.0"/>
<line x1="166.1" y1="195.6" x2="166.1" y2="201.8" stroke="#222" stroke-width="1.0"/>
<line x1="195.2" y1="195.6" x2="195.2" y2="201.8" stroke="#222" stroke-width="1.0"/>
<line x1="224.4" y1="195.6" x2="224.4" y2="201.8" stroke="#222" stroke-width="1.0"/>
<line x1="253.6" y1="195.6" x2="253.6" y2="201.8" stroke="#222" stroke-width="1.0"/>
<line x1="282.7" y1="195.6" x2="282.7" y2="201.8" stroke="#222" stroke-width="1.0"/>
<line x1="311.9" y1="195.6" x2="311.9" y2="201.8" stroke="#222" stroke-width="1.0"/>
<line x1="125.00" y1="312.7" x2="125.00" y2="430.9" stroke="#858585" stroke-width="1.55"/>
<line x1="322.10" y1="312.7" x2="322.10" y2="430.9" stroke="#858585" stroke-width="1.55"/>
<line x1="124.3" y1="313.3" x2="322.9" y2="313.2" stroke="#000" stroke-width="1.6"/>
<line x1="120.0" y1="315.3" x2="124.6" y2="315.3" stroke="#1a1a1a" stroke-width="1.0"/>
<text transform="translate(118.2,320.5) scale(0.800,1)" font-size="15.6" text-anchor="end" stroke="#000" stroke-width="0.18">1.0</text>
<line x1="120.0" y1="338.6" x2="124.6" y2="338.6" stroke="#1a1a1a" stroke-width="1.0"/>
<text transform="translate(118.2,343.8) scale(0.800,1)" font-size="15.6" text-anchor="end" stroke="#000" stroke-width="0.18">0.8</text>
<line x1="120.0" y1="361.9" x2="124.6" y2="361.9" stroke="#1a1a1a" stroke-width="1.0"/>
<text transform="translate(118.2,367.1) scale(0.800,1)" font-size="15.6" text-anchor="end" stroke="#000" stroke-width="0.18">0.6</text>
<line x1="120.0" y1="385.1" x2="124.6" y2="385.1" stroke="#1a1a1a" stroke-width="1.0"/>
<text transform="translate(118.2,390.3) scale(0.800,1)" font-size="15.6" text-anchor="end" stroke="#000" stroke-width="0.18">0.4</text>
<line x1="120.0" y1="408.4" x2="124.6" y2="408.4" stroke="#1a1a1a" stroke-width="1.0"/>
<text transform="translate(118.2,413.6) scale(0.800,1)" font-size="15.6" text-anchor="end" stroke="#000" stroke-width="0.18">0.2</text>
<line x1="136.1" y1="313.2" x2="136.1" y2="319.4" stroke="#222" stroke-width="1.0"/>
<line x1="165.2" y1="313.2" x2="165.2" y2="319.4" stroke="#222" stroke-width="1.0"/>
<line x1="194.3" y1="313.2" x2="194.3" y2="319.4" stroke="#222" stroke-width="1.0"/>
<line x1="223.5" y1="313.2" x2="223.5" y2="319.4" stroke="#222" stroke-width="1.0"/>
<line x1="252.7" y1="313.2" x2="252.7" y2="319.4" stroke="#222" stroke-width="1.0"/>
<line x1="281.8" y1="313.2" x2="281.8" y2="319.4" stroke="#222" stroke-width="1.0"/>
<line x1="310.9" y1="313.2" x2="310.9" y2="319.4" stroke="#222" stroke-width="1.0"/>
<line x1="125.00" y1="429.5" x2="125.00" y2="540.8" stroke="#858585" stroke-width="1.55"/>
<line x1="322.10" y1="429.5" x2="322.10" y2="540.8" stroke="#858585" stroke-width="1.55"/>
<line x1="120.0" y1="431.3" x2="124.6" y2="431.3" stroke="#1a1a1a" stroke-width="1.0"/>
<text transform="translate(118.2,436.5) scale(0.800,1)" font-size="15.6" text-anchor="end" stroke="#000" stroke-width="0.18">1.0</text>
<line x1="120.0" y1="453.3" x2="124.6" y2="453.3" stroke="#1a1a1a" stroke-width="1.0"/>
<text transform="translate(118.2,458.5) scale(0.800,1)" font-size="15.6" text-anchor="end" stroke="#000" stroke-width="0.18">0.8</text>
<line x1="120.0" y1="475.4" x2="124.6" y2="475.4" stroke="#1a1a1a" stroke-width="1.0"/>
<text transform="translate(118.2,480.6) scale(0.800,1)" font-size="15.6" text-anchor="end" stroke="#000" stroke-width="0.18">0.6</text>
<line x1="120.0" y1="497.4" x2="124.6" y2="497.4" stroke="#1a1a1a" stroke-width="1.0"/>
<text transform="translate(118.2,502.6) scale(0.800,1)" font-size="15.6" text-anchor="end" stroke="#000" stroke-width="0.18">0.4</text>
<line x1="120.0" y1="519.4" x2="124.6" y2="519.4" stroke="#1a1a1a" stroke-width="1.0"/>
<text transform="translate(118.2,524.6) scale(0.800,1)" font-size="15.6" text-anchor="end" stroke="#000" stroke-width="0.18">0.2</text>
<line x1="136.1" y1="430.0" x2="136.1" y2="436.2" stroke="#222" stroke-width="1.0"/>
<line x1="165.2" y1="430.0" x2="165.2" y2="436.2" stroke="#222" stroke-width="1.0"/>
<line x1="194.3" y1="430.0" x2="194.3" y2="436.2" stroke="#222" stroke-width="1.0"/>
<line x1="223.5" y1="430.0" x2="223.5" y2="436.2" stroke="#222" stroke-width="1.0"/>
<line x1="252.7" y1="430.0" x2="252.7" y2="436.2" stroke="#222" stroke-width="1.0"/>
<line x1="281.8" y1="430.0" x2="281.8" y2="436.2" stroke="#222" stroke-width="1.0"/>
<line x1="310.9" y1="430.0" x2="310.9" y2="436.2" stroke="#222" stroke-width="1.0"/>
<line x1="124.3" y1="540.3" x2="322.9" y2="540.3" stroke="#737373" stroke-width="1.3"/>
<line x1="136.4" y1="540.3" x2="136.4" y2="546.6" stroke="#1a1a1a" stroke-width="1.0"/>
<text transform="translate(136.2,563.7) scale(0.800,1)" font-size="15.6" text-anchor="middle" stroke="#000" stroke-width="0.18">-3</text>
<line x1="165.6" y1="540.3" x2="165.6" y2="546.6" stroke="#1a1a1a" stroke-width="1.0"/>
<text transform="translate(165.4,563.7) scale(0.800,1)" font-size="15.6" text-anchor="middle" stroke="#000" stroke-width="0.18">-2</text>
<line x1="194.7" y1="540.3" x2="194.7" y2="546.6" stroke="#1a1a1a" stroke-width="1.0"/>
<text transform="translate(194.5,563.7) scale(0.800,1)" font-size="15.6" text-anchor="middle" stroke="#000" stroke-width="0.18">-1</text>
<line x1="223.8" y1="540.3" x2="223.8" y2="546.6" stroke="#1a1a1a" stroke-width="1.0"/>
<text transform="translate(223.6,563.7) scale(0.800,1)" font-size="15.6" text-anchor="middle" stroke="#000" stroke-width="0.18">0</text>
<line x1="252.8" y1="540.3" x2="252.8" y2="546.6" stroke="#1a1a1a" stroke-width="1.0"/>
<text transform="translate(252.7,563.7) scale(0.800,1)" font-size="15.6" text-anchor="middle" stroke="#000" stroke-width="0.18">1</text>
<line x1="281.9" y1="540.3" x2="281.9" y2="546.6" stroke="#1a1a1a" stroke-width="1.0"/>
<text transform="translate(281.8,563.7) scale(0.800,1)" font-size="15.6" text-anchor="middle" stroke="#000" stroke-width="0.18">2</text>
<line x1="311.1" y1="540.3" x2="311.1" y2="546.6" stroke="#1a1a1a" stroke-width="1.0"/>
<text transform="translate(310.9,563.7) scale(0.800,1)" font-size="15.6" text-anchor="middle" stroke="#000" stroke-width="0.18">3</text>
<text transform="translate(132.3,105.6) scale(0.870,1)" font-size="24.5" text-anchor="start" stroke="#000" stroke-width="0.18">a</text>
<text transform="translate(133.8,226.6) scale(0.820,1)" font-size="23.5" text-anchor="start" stroke="#000" stroke-width="0.18">b</text>
<text transform="translate(131.0,341.0) scale(0.870,1)" font-size="24.5" text-anchor="start" stroke="#000" stroke-width="0.18">c</text>
<text transform="translate(128.9,457.9) scale(0.820,1)" font-size="23.5" text-anchor="start" stroke="#000" stroke-width="0.18">d</text>
<text transform="translate(130.5,123.0) scale(0.840,1)" font-size="11.0" text-anchor="start" stroke="#000" stroke-width="0.18">Λ-system</text>
<text transform="translate(129.0,242.4) scale(0.840,1)" font-size="11.0" text-anchor="start" stroke="#000" stroke-width="0.18">N-system</text>
<text transform="translate(128.0,356.7) scale(0.840,1)" font-size="11.0" text-anchor="start" stroke="#000" stroke-width="0.18">M-system</text>
<text transform="translate(127.9,474.4) scale(0.840,1)" font-size="11.0" text-anchor="start" stroke="#000" stroke-width="0.18">NN-system</text>
<line x1="267.1" y1="98.0" x2="279.6" y2="98.0" stroke="#6a6a6a" stroke-width="1.3"/>
<line x1="267.1" y1="98.0" x2="279.6" y2="98.0" stroke="#1a1a1a" stroke-width="1.5" stroke-dasharray="0.9 0.9"/>
<text transform="translate(282.5,100.6) scale(0.843,1)" font-size="9.4" text-anchor="start" stroke="#000" stroke-width="0.2">No control</text>
<line x1="267.3" y1="108.7" x2="281.6" y2="108.7" stroke="#0000dc" stroke-width="1.6"/>
<text transform="translate(285.1,111.7) scale(0.881,1)" font-size="8.3" text-anchor="start" stroke="#000" stroke-width="0.15">Ω</text>
<text transform="translate(290.4,114.0) scale(0.689,1)" font-size="6.1" text-anchor="start" stroke="#000" stroke-width="0.25">23</text>
<line x1="294.9" y1="108.25" x2="298.8" y2="108.25" stroke="#1a1a1a" stroke-width="0.8"/>
<line x1="294.9" y1="109.95" x2="298.8" y2="109.95" stroke="#1a1a1a" stroke-width="0.8"/>
<text transform="translate(300.2,111.7) scale(0.914,1)" font-size="8.3" text-anchor="start" stroke="#000" stroke-width="0.15">Γ</text>
<line x1="267.0" y1="120.4" x2="280.0" y2="120.4" stroke="#ff0000" stroke-width="1.6"/>
<text transform="translate(283.0,123.5) scale(0.881,1)" font-size="8.3" text-anchor="start" stroke="#000" stroke-width="0.15">Ω</text>
<text transform="translate(288.3,125.8) scale(0.689,1)" font-size="6.1" text-anchor="start" stroke="#000" stroke-width="0.25">23</text>
<line x1="292.8" y1="120.05" x2="296.7" y2="120.05" stroke="#1a1a1a" stroke-width="0.8"/>
<line x1="292.8" y1="121.75" x2="296.7" y2="121.75" stroke="#1a1a1a" stroke-width="0.8"/>
<text transform="translate(298.1,123.5) scale(0.851,1)" font-size="8.3" text-anchor="start" stroke="#000" stroke-width="0.15">2<tspan font-size="11.6" dy="1.2">•</tspan><tspan dy="-1.2">Γ</tspan></text>
<line x1="270.3" y1="208.2" x2="283.3" y2="208.2" stroke="#6a6a6a" stroke-width="1.3"/>
<line x1="270.3" y1="208.2" x2="283.3" y2="208.2" stroke="#1a1a1a" stroke-width="1.5" stroke-dasharray="0.9 0.9"/>
<text transform="translate(283.8,210.6) scale(0.830,1)" font-size="8.0" text-anchor="start" stroke="#000" stroke-width="0.2">No control</text>
<line x1="270.7" y1="218.4" x2="282.4" y2="218.4" stroke="#0000dc" stroke-width="1.6"/>
<text transform="translate(286.0,220.7) scale(0.926,1)" font-size="7.9" text-anchor="start" stroke="#000" stroke-width="0.15">Ω</text>
<text transform="translate(291.3,223.0) scale(0.689,1)" font-size="6.1" text-anchor="start" stroke="#000" stroke-width="0.25">23</text>
<line x1="295.8" y1="217.25" x2="299.7" y2="217.25" stroke="#1a1a1a" stroke-width="0.8"/>
<line x1="295.8" y1="218.95" x2="299.7" y2="218.95" stroke="#1a1a1a" stroke-width="0.8"/>
<text transform="translate(301.7,220.7) scale(0.909,1)" font-size="7.9" text-anchor="start" stroke="#000" stroke-width="0.15">Γ,</text>
<text transform="translate(286.1,232.5) scale(0.926,1)" font-size="7.9" text-anchor="start" stroke="#000" stroke-width="0.15">Ω</text>
<text transform="translate(291.4,234.8) scale(0.689,1)" font-size="6.1" text-anchor="start" stroke="#000" stroke-width="0.25">34</text>
<line x1="295.9" y1="229.05" x2="299.8" y2="229.05" stroke="#1a1a1a" stroke-width="0.8"/>
<line x1="295.9" y1="230.75" x2="299.8" y2="230.75" stroke="#1a1a1a" stroke-width="0.8"/>
<text transform="translate(301.8,232.5) scale(0.770,1)" font-size="7.9" text-anchor="start" stroke="#000" stroke-width="0.15">Γ;</text>
<line x1="270.7" y1="241.6" x2="283.8" y2="241.6" stroke="#ff0000" stroke-width="1.6"/>
<text transform="translate(286.7,244.2) scale(0.926,1)" font-size="7.9" text-anchor="start" stroke="#000" stroke-width="0.15">Ω</text>
<text transform="translate(292.0,246.5) scale(0.689,1)" font-size="6.1" text-anchor="start" stroke="#000" stroke-width="0.25">23</text>
<line x1="296.5" y1="240.75" x2="300.4" y2="240.75" stroke="#1a1a1a" stroke-width="0.8"/>
<line x1="296.5" y1="242.45" x2="300.4" y2="242.45" stroke="#1a1a1a" stroke-width="0.8"/>
<text transform="translate(302.4,244.2) scale(0.945,1)" font-size="7.9" text-anchor="start" stroke="#000" stroke-width="0.15">Γ,</text>
<text transform="translate(284.7,256.6) scale(0.926,1)" font-size="7.9" text-anchor="start" stroke="#000" stroke-width="0.15">Ω</text>
<text transform="translate(290.0,258.9) scale(0.689,1)" font-size="6.1" text-anchor="start" stroke="#000" stroke-width="0.25">34</text>
<line x1="294.5" y1="253.15" x2="298.4" y2="253.15" stroke="#1a1a1a" stroke-width="0.8"/>
<line x1="294.5" y1="254.85" x2="298.4" y2="254.85" stroke="#1a1a1a" stroke-width="0.8"/>
<text transform="translate(300.4,256.6) scale(0.784,1)" font-size="7.9" text-anchor="start" stroke="#000" stroke-width="0.15">2<tspan font-size="11.1" dy="1.2">•</tspan><tspan dy="-1.2"> Γ</tspan></text>
<line x1="270.7" y1="327.9" x2="283.2" y2="327.9" stroke="#6a6a6a" stroke-width="1.3"/>
<line x1="270.7" y1="327.9" x2="283.2" y2="327.9" stroke="#1a1a1a" stroke-width="1.5" stroke-dasharray="0.9 0.9"/>
<text transform="translate(286.3,330.1) scale(0.830,1)" font-size="8.0" text-anchor="start" stroke="#000" stroke-width="0.2">No control</text>
<line x1="270.7" y1="338.0" x2="283.0" y2="338.0" stroke="#0000dc" stroke-width="1.6"/>
<text transform="translate(286.1,340.8) scale(0.926,1)" font-size="7.9" text-anchor="start" stroke="#000" stroke-width="0.15">Ω</text>
<text transform="translate(291.4,343.1) scale(0.689,1)" font-size="6.1" text-anchor="start" stroke="#000" stroke-width="0.25">23</text>
<line x1="295.9" y1="337.35" x2="299.8" y2="337.35" stroke="#1a1a1a" stroke-width="0.8"/>
<line x1="295.9" y1="339.05" x2="299.8" y2="339.05" stroke="#1a1a1a" stroke-width="0.8"/>
<text transform="translate(301.8,340.8) scale(0.891,1)" font-size="7.9" text-anchor="start" stroke="#000" stroke-width="0.15">Γ,</text>
<text transform="translate(285.0,352.2) scale(0.926,1)" font-size="7.9" text-anchor="start" stroke="#000" stroke-width="0.15">Ω</text>
<text transform="translate(290.3,354.5) scale(0.689,1)" font-size="6.1" text-anchor="start" stroke="#000" stroke-width="0.25">34</text>
<line x1="294.8" y1="348.75" x2="298.7" y2="348.75" stroke="#1a1a1a" stroke-width="0.8"/>
<line x1="294.8" y1="350.45" x2="298.7" y2="350.45" stroke="#1a1a1a" stroke-width="0.8"/>
<text transform="translate(300.7,352.2) scale(1.034,1)" font-size="7.9" text-anchor="start" stroke="#000" stroke-width="0.15">Γ,</text>
<text transform="translate(285.0,363.8) scale(0.926,1)" font-size="7.9" text-anchor="start" stroke="#000" stroke-width="0.15">Ω</text>
<text transform="translate(290.3,366.1) scale(0.689,1)" font-size="6.1" text-anchor="start" stroke="#000" stroke-width="0.25">45</text>
<line x1="294.8" y1="360.35" x2="298.7" y2="360.35" stroke="#1a1a1a" stroke-width="0.8"/>
<line x1="294.8" y1="362.05" x2="298.7" y2="362.05" stroke="#1a1a1a" stroke-width="0.8"/>
<text transform="translate(300.7,363.8) scale(0.859,1)" font-size="7.9" text-anchor="start" stroke="#000" stroke-width="0.15">Γ;</text>
<line x1="271.3" y1="372.7" x2="284.1" y2="372.7" stroke="#ff0000" stroke-width="1.6"/>
<text transform="translate(287.2,376.1) scale(0.926,1)" font-size="7.9" text-anchor="start" stroke="#000" stroke-width="0.15">Ω</text>
<text transform="translate(292.5,378.4) scale(0.689,1)" font-size="6.1" text-anchor="start" stroke="#000" stroke-width="0.25">23</text>
<line x1="297.0" y1="372.65" x2="300.9" y2="372.65" stroke="#1a1a1a" stroke-width="0.8"/>
<line x1="297.0" y1="374.35" x2="300.9" y2="374.35" stroke="#1a1a1a" stroke-width="0.8"/>
<text transform="translate(302.9,376.1) scale(0.945,1)" font-size="7.9" text-anchor="start" stroke="#000" stroke-width="0.15">Γ,</text>
<text transform="translate(285.0,387.3) scale(0.926,1)" font-size="7.9" text-anchor="start" stroke="#000" stroke-width="0.15">Ω</text>
<text transform="translate(290.3,389.6) scale(0.689,1)" font-size="6.1" text-anchor="start" stroke="#000" stroke-width="0.25">34</text>
<line x1="294.8" y1="383.85" x2="298.7" y2="383.85" stroke="#1a1a1a" stroke-width="0.8"/>
<line x1="294.8" y1="385.55" x2="298.7" y2="385.55" stroke="#1a1a1a" stroke-width="0.8"/>
<text transform="translate(300.7,387.3) scale(1.034,1)" font-size="7.9" text-anchor="start" stroke="#000" stroke-width="0.15">Γ,</text>
<text transform="translate(285.0,399.0) scale(0.926,1)" font-size="7.9" text-anchor="start" stroke="#000" stroke-width="0.15">Ω</text>
<text transform="translate(290.3,401.3) scale(0.689,1)" font-size="6.1" text-anchor="start" stroke="#000" stroke-width="0.25">45</text>
<line x1="294.8" y1="395.55" x2="298.7" y2="395.55" stroke="#1a1a1a" stroke-width="0.8"/>
<line x1="294.8" y1="397.25" x2="298.7" y2="397.25" stroke="#1a1a1a" stroke-width="0.8"/>
<text transform="translate(300.7,399.0) scale(0.867,1)" font-size="7.9" text-anchor="start" stroke="#000" stroke-width="0.15">2<tspan font-size="11.1" dy="1.2">•</tspan><tspan dy="-1.2">Γ</tspan></text>
<line x1="275.2" y1="436.2" x2="287.5" y2="436.2" stroke="#6a6a6a" stroke-width="1.3"/>
<line x1="275.2" y1="436.2" x2="287.5" y2="436.2" stroke="#1a1a1a" stroke-width="1.5" stroke-dasharray="0.9 0.9"/>
<text transform="translate(290.6,438.6) scale(0.830,1)" font-size="8.0" text-anchor="start" stroke="#000" stroke-width="0.2">No control</text>
<line x1="275.5" y1="446.5" x2="287.5" y2="446.5" stroke="#0000dc" stroke-width="1.6"/>
<text transform="translate(290.6,449.4) scale(0.926,1)" font-size="7.9" text-anchor="start" stroke="#000" stroke-width="0.15">Ω</text>
<text transform="translate(295.9,451.7) scale(0.689,1)" font-size="6.1" text-anchor="start" stroke="#000" stroke-width="0.25">23</text>
<line x1="300.4" y1="445.95" x2="304.3" y2="445.95" stroke="#1a1a1a" stroke-width="0.8"/>
<line x1="300.4" y1="447.65" x2="304.3" y2="447.65" stroke="#1a1a1a" stroke-width="0.8"/>
<text transform="translate(306.3,449.4) scale(0.856,1)" font-size="7.9" text-anchor="start" stroke="#000" stroke-width="0.15">Γ,</text>
<text transform="translate(290.9,460.5) scale(0.926,1)" font-size="7.9" text-anchor="start" stroke="#000" stroke-width="0.15">Ω</text>
<text transform="translate(296.2,462.8) scale(0.689,1)" font-size="6.1" text-anchor="start" stroke="#000" stroke-width="0.25">34</text>
<line x1="300.7" y1="457.05" x2="304.6" y2="457.05" stroke="#1a1a1a" stroke-width="0.8"/>
<line x1="300.7" y1="458.75" x2="304.6" y2="458.75" stroke="#1a1a1a" stroke-width="0.8"/>
<text transform="translate(306.6,460.5) scale(0.874,1)" font-size="7.9" text-anchor="start" stroke="#000" stroke-width="0.15">Γ,</text>
<text transform="translate(290.9,472.3) scale(0.926,1)" font-size="7.9" text-anchor="start" stroke="#000" stroke-width="0.15">Ω</text>
<text transform="translate(296.2,474.6) scale(0.689,1)" font-size="6.1" text-anchor="start" stroke="#000" stroke-width="0.25">45</text>
<line x1="300.7" y1="468.85" x2="304.6" y2="468.85" stroke="#1a1a1a" stroke-width="0.8"/>
<line x1="300.7" y1="470.55" x2="304.6" y2="470.55" stroke="#1a1a1a" stroke-width="0.8"/>
<text transform="translate(306.6,472.3) scale(0.874,1)" font-size="7.9" text-anchor="start" stroke="#000" stroke-width="0.15">Γ,</text>
<text transform="translate(290.9,484.0) scale(0.926,1)" font-size="7.9" text-anchor="start" stroke="#000" stroke-width="0.15">Ω</text>
<text transform="translate(296.2,486.3) scale(0.689,1)" font-size="6.1" text-anchor="start" stroke="#000" stroke-width="0.25">56</text>
<line x1="300.7" y1="480.55" x2="304.6" y2="480.55" stroke="#1a1a1a" stroke-width="0.8"/>
<line x1="300.7" y1="482.25" x2="304.6" y2="482.25" stroke="#1a1a1a" stroke-width="0.8"/>
<text transform="translate(306.6,484.0) scale(0.874,1)" font-size="7.9" text-anchor="start" stroke="#000" stroke-width="0.15">Γ,</text>
<line x1="275.5" y1="493.5" x2="288.9" y2="493.5" stroke="#ff0000" stroke-width="1.6"/>
<text transform="translate(291.8,496.3) scale(0.926,1)" font-size="7.9" text-anchor="start" stroke="#000" stroke-width="0.15">Ω</text>
<text transform="translate(297.1,498.6) scale(0.689,1)" font-size="6.1" text-anchor="start" stroke="#000" stroke-width="0.25">23</text>
<line x1="301.6" y1="492.85" x2="305.5" y2="492.85" stroke="#1a1a1a" stroke-width="0.8"/>
<line x1="301.6" y1="494.55" x2="305.5" y2="494.55" stroke="#1a1a1a" stroke-width="0.8"/>
<text transform="translate(307.5,496.3) scale(0.945,1)" font-size="7.9" text-anchor="start" stroke="#000" stroke-width="0.15">Γ,</text>
<text transform="translate(290.9,507.8) scale(0.926,1)" font-size="7.9" text-anchor="start" stroke="#000" stroke-width="0.15">Ω</text>
<text transform="translate(296.2,510.1) scale(0.689,1)" font-size="6.1" text-anchor="start" stroke="#000" stroke-width="0.25">34</text>
<line x1="300.7" y1="504.35" x2="304.6" y2="504.35" stroke="#1a1a1a" stroke-width="0.8"/>
<line x1="300.7" y1="506.05" x2="304.6" y2="506.05" stroke="#1a1a1a" stroke-width="0.8"/>
<text transform="translate(306.6,507.8) scale(0.874,1)" font-size="7.9" text-anchor="start" stroke="#000" stroke-width="0.15">Γ,</text>
<text transform="translate(290.9,519.3) scale(0.926,1)" font-size="7.9" text-anchor="start" stroke="#000" stroke-width="0.15">Ω</text>
<text transform="translate(296.2,521.6) scale(0.689,1)" font-size="6.1" text-anchor="start" stroke="#000" stroke-width="0.25">45</text>
<line x1="300.7" y1="515.85" x2="304.6" y2="515.85" stroke="#1a1a1a" stroke-width="0.8"/>
<line x1="300.7" y1="517.55" x2="304.6" y2="517.55" stroke="#1a1a1a" stroke-width="0.8"/>
<text transform="translate(306.6,519.3) scale(0.874,1)" font-size="7.9" text-anchor="start" stroke="#000" stroke-width="0.15">Γ,</text>
<text transform="translate(290.9,531.3) scale(0.926,1)" font-size="7.9" text-anchor="start" stroke="#000" stroke-width="0.15">Ω</text>
<text transform="translate(296.2,533.6) scale(0.689,1)" font-size="6.1" text-anchor="start" stroke="#000" stroke-width="0.25">56</text>
<line x1="300.7" y1="527.85" x2="304.6" y2="527.85" stroke="#1a1a1a" stroke-width="0.8"/>
<line x1="300.7" y1="529.55" x2="304.6" y2="529.55" stroke="#1a1a1a" stroke-width="0.8"/>
<text transform="translate(306.6,531.3) scale(0.876,1)" font-size="7.9" text-anchor="start" stroke="#000" stroke-width="0.15">2<tspan font-size="11.1" dy="1.2">•</tspan><tspan dy="-1.2">Γ</tspan></text>
<text transform="translate(223.4,583.9) scale(0.840,1)" font-size="14.7" text-anchor="middle" stroke="#000" stroke-width="0.18">Δ<tspan font-size="9.5" dy="3.9">12</tspan><tspan dy="-3.9">/Γ</tspan></text>
<text transform="translate(72,302.4) rotate(-90) scale(1.24,1)" font-size="16" text-anchor="middle" stroke="#000" stroke-width="0.12">Im(ρ<tspan font-size="11" dy="3.5">12</tspan><tspan dy="-3.5">)</tspan></text>
</g>
</svg>
</body></html>
